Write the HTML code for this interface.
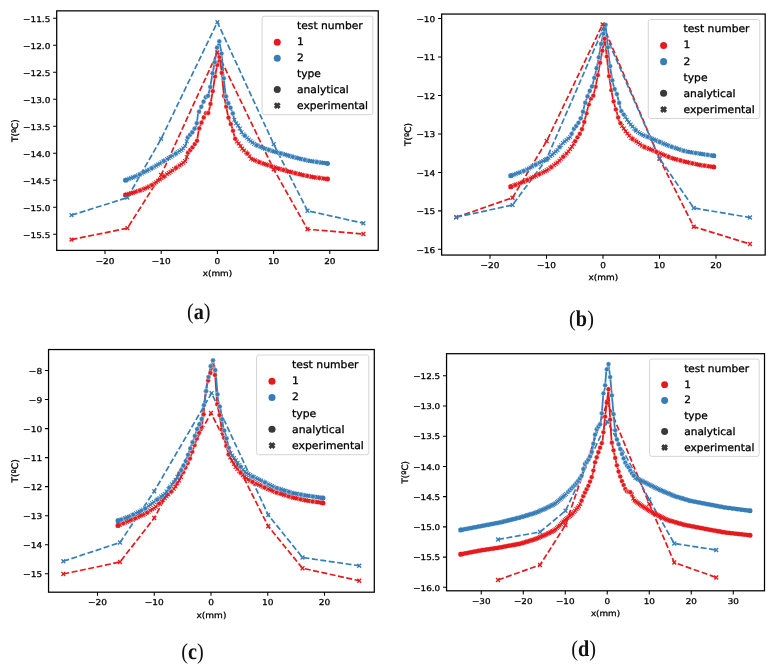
<!DOCTYPE html>
<html lang="en">
<head>
<meta charset="utf-8">
<title>Temperature profiles: analytical vs experimental</title>
<style>
html,body{margin:0;padding:0;background:#fff;}
body{width:780px;height:669px;overflow:hidden;}
svg{display:block;will-change:transform;opacity:0.999;text-rendering:geometricPrecision;}
text{white-space:pre;}
</style>
</head>
<body>
<svg width="780" height="669" viewBox="0 0 780 669">
<rect width="780" height="669" fill="#fff"/>
<g>
<polyline points="71.5,239.6 127.4,228.2 161.1,175 217.4,52.5 273.7,169.3 307.5,229.25 363.4,234" fill="none" stroke="#e41a1c" stroke-width="1.7" stroke-dasharray="6 2.5" stroke-linejoin="round"/>
<polyline points="71.5,215.2 127.4,197.6 161.1,138.9 217.4,22.2 273.7,144.2 307.5,210.75 363.4,223.25" fill="none" stroke="#377eb8" stroke-width="1.7" stroke-dasharray="6 2.5" stroke-linejoin="round"/>
<polyline points="125.6,195 142.1,189.8 152.3,185 163,177.2 174.4,169 182.7,163.3 186,160 187.9,152.8 192.6,147.2 197,140.8 198.9,129.3 201.5,122.7 203.8,117.4 206,113.2 208.5,113 210.6,103.5 212.9,90.3 215,76.5 217.4,64.2 219.5,57 221.5,70.4 224,96 226,105.3 228.1,116.5 230.2,122.7 232.2,127.8 234.9,138.1 236.3,141 239.5,144.5 242.5,149 247.5,153.75 251.25,158.75 260,162.5 275,167.5 287.5,171.25 302.5,175 315,177.5 327.5,179" fill="none" stroke="#e41a1c" stroke-width="1.8" stroke-linejoin="round"/>
<polyline points="125.6,180.2 138.8,175 152.3,168 163,161.5 173.8,155 182.7,149 185.8,145 187.8,137.5 192.5,132 196.5,125.5 198,114 200.8,108 203.4,102 205.8,97.2 207.8,96.8 210.2,87.6 212.3,74.5 215,61.2 217,47.8 219.3,41.3 221.5,53 224,80.6 225.6,95 228.3,103.2 230.8,108.3 232.8,113.5 234.9,121.7 239,126.8 242,133 249.5,140.2 255,144.5 265,148.75 277.5,152.5 295,157.5 307.5,160.5 320,162.5 327.5,163.5" fill="none" stroke="#377eb8" stroke-width="1.8" stroke-linejoin="round"/>
<path d="M123.7 193.1l3.8 3.8m-3.8 0l3.8 -3.8M125.5 192.53l3.8 3.8m-3.8 0l3.8 -3.8M127.3 191.97l3.8 3.8m-3.8 0l3.8 -3.8M129.1 191.4l3.8 3.8m-3.8 0l3.8 -3.8M130.9 190.83l3.8 3.8m-3.8 0l3.8 -3.8M132.7 190.26l3.8 3.8m-3.8 0l3.8 -3.8M134.5 189.7l3.8 3.8m-3.8 0l3.8 -3.8M136.3 189.13l3.8 3.8m-3.8 0l3.8 -3.8M138.1 188.56l3.8 3.8m-3.8 0l3.8 -3.8M139.9 187.99l3.8 3.8m-3.8 0l3.8 -3.8M141.7 187.19l3.8 3.8m-3.8 0l3.8 -3.8M143.5 186.35l3.8 3.8m-3.8 0l3.8 -3.8M145.3 185.5l3.8 3.8m-3.8 0l3.8 -3.8M147.1 184.65l3.8 3.8m-3.8 0l3.8 -3.8M148.9 183.81l3.8 3.8m-3.8 0l3.8 -3.8M150.7 182.88l3.8 3.8m-3.8 0l3.8 -3.8M152.5 181.57l3.8 3.8m-3.8 0l3.8 -3.8M154.3 180.26l3.8 3.8m-3.8 0l3.8 -3.8M156.1 178.94l3.8 3.8m-3.8 0l3.8 -3.8M157.9 177.63l3.8 3.8m-3.8 0l3.8 -3.8M159.7 176.32l3.8 3.8m-3.8 0l3.8 -3.8M161.5 175.01l3.8 3.8m-3.8 0l3.8 -3.8M163.3 173.72l3.8 3.8m-3.8 0l3.8 -3.8M165.1 172.42l3.8 3.8m-3.8 0l3.8 -3.8M166.9 171.13l3.8 3.8m-3.8 0l3.8 -3.8M168.7 169.83l3.8 3.8m-3.8 0l3.8 -3.8M170.5 168.54l3.8 3.8m-3.8 0l3.8 -3.8M172.3 167.24l3.8 3.8m-3.8 0l3.8 -3.8M174.1 166l3.8 3.8m-3.8 0l3.8 -3.8M175.9 164.77l3.8 3.8m-3.8 0l3.8 -3.8M177.7 163.53l3.8 3.8m-3.8 0l3.8 -3.8M179.5 162.29l3.8 3.8m-3.8 0l3.8 -3.8M181.3 160.9l3.8 3.8m-3.8 0l3.8 -3.8M183.1 159.1l3.8 3.8m-3.8 0l3.8 -3.8M184.9 155.07l3.8 3.8m-3.8 0l3.8 -3.8M234.95 139.7l3.8 3.8m-3.8 0l3.8 -3.8M236.75 141.67l3.8 3.8m-3.8 0l3.8 -3.8M238.55 144.03l3.8 3.8m-3.8 0l3.8 -3.8M240.35 146.73l3.8 3.8m-3.8 0l3.8 -3.8M242.15 148.57l3.8 3.8m-3.8 0l3.8 -3.8M243.95 150.28l3.8 3.8m-3.8 0l3.8 -3.8M245.75 152.05l3.8 3.8m-3.8 0l3.8 -3.8M247.55 154.45l3.8 3.8m-3.8 0l3.8 -3.8M249.35 156.85l3.8 3.8m-3.8 0l3.8 -3.8M251.15 157.62l3.8 3.8m-3.8 0l3.8 -3.8M252.95 158.39l3.8 3.8m-3.8 0l3.8 -3.8M254.75 159.16l3.8 3.8m-3.8 0l3.8 -3.8M256.55 159.94l3.8 3.8m-3.8 0l3.8 -3.8M258.35 160.68l3.8 3.8m-3.8 0l3.8 -3.8M260.15 161.28l3.8 3.8m-3.8 0l3.8 -3.8M261.95 161.88l3.8 3.8m-3.8 0l3.8 -3.8M263.75 162.48l3.8 3.8m-3.8 0l3.8 -3.8M265.55 163.08l3.8 3.8m-3.8 0l3.8 -3.8M267.35 163.68l3.8 3.8m-3.8 0l3.8 -3.8M269.15 164.28l3.8 3.8m-3.8 0l3.8 -3.8M270.95 164.88l3.8 3.8m-3.8 0l3.8 -3.8M272.75 165.48l3.8 3.8m-3.8 0l3.8 -3.8M274.55 166.04l3.8 3.8m-3.8 0l3.8 -3.8M276.35 166.58l3.8 3.8m-3.8 0l3.8 -3.8M278.15 167.12l3.8 3.8m-3.8 0l3.8 -3.8M279.95 167.66l3.8 3.8m-3.8 0l3.8 -3.8M281.75 168.2l3.8 3.8m-3.8 0l3.8 -3.8M283.55 168.74l3.8 3.8m-3.8 0l3.8 -3.8M285.35 169.28l3.8 3.8m-3.8 0l3.8 -3.8M287.15 169.74l3.8 3.8m-3.8 0l3.8 -3.8M288.95 170.19l3.8 3.8m-3.8 0l3.8 -3.8M290.75 170.64l3.8 3.8m-3.8 0l3.8 -3.8M292.55 171.09l3.8 3.8m-3.8 0l3.8 -3.8M294.35 171.54l3.8 3.8m-3.8 0l3.8 -3.8M296.15 171.99l3.8 3.8m-3.8 0l3.8 -3.8M297.95 172.44l3.8 3.8m-3.8 0l3.8 -3.8M299.75 172.89l3.8 3.8m-3.8 0l3.8 -3.8M301.55 173.29l3.8 3.8m-3.8 0l3.8 -3.8M303.35 173.65l3.8 3.8m-3.8 0l3.8 -3.8M305.15 174.01l3.8 3.8m-3.8 0l3.8 -3.8M306.95 174.37l3.8 3.8m-3.8 0l3.8 -3.8M308.75 174.73l3.8 3.8m-3.8 0l3.8 -3.8M310.55 175.09l3.8 3.8m-3.8 0l3.8 -3.8M312.35 175.45l3.8 3.8m-3.8 0l3.8 -3.8M314.15 175.73l3.8 3.8m-3.8 0l3.8 -3.8M315.95 175.94l3.8 3.8m-3.8 0l3.8 -3.8M317.75 176.16l3.8 3.8m-3.8 0l3.8 -3.8M319.55 176.37l3.8 3.8m-3.8 0l3.8 -3.8M321.35 176.59l3.8 3.8m-3.8 0l3.8 -3.8M323.15 176.81l3.8 3.8m-3.8 0l3.8 -3.8M324.95 177.02l3.8 3.8m-3.8 0l3.8 -3.8" stroke="#e41a1c" stroke-width="1.05" fill="none"/>
<g fill="#e41a1c" stroke="#fff" stroke-width="0.4">
<circle cx="140" cy="190.46" r="2.4"/><circle cx="152" cy="185.14" r="2.4"/><circle cx="164" cy="176.48" r="2.4"/><circle cx="176" cy="167.9" r="2.4"/><circle cx="188" cy="152.68" r="2.4"/><circle cx="190.25" cy="150" r="2.4"/><circle cx="192.5" cy="147.32" r="2.4"/><circle cx="194.75" cy="144.07" r="2.4"/><circle cx="197" cy="140.8" r="2.4"/><circle cx="199.25" cy="128.41" r="2.4"/><circle cx="201.5" cy="122.7" r="2.4"/><circle cx="203.75" cy="117.52" r="2.4"/><circle cx="206" cy="113.2" r="2.4"/><circle cx="208.25" cy="113.02" r="2.4"/><circle cx="210.5" cy="103.95" r="2.4"/><circle cx="212.75" cy="91.16" r="2.4"/><circle cx="215" cy="76.5" r="2.4"/><circle cx="217.25" cy="64.97" r="2.4"/><circle cx="219.5" cy="57" r="2.4"/><circle cx="221.75" cy="72.96" r="2.4"/><circle cx="224" cy="96" r="2.4"/><circle cx="226.25" cy="106.63" r="2.4"/><circle cx="228.5" cy="117.68" r="2.4"/><circle cx="230.75" cy="124.1" r="2.4"/><circle cx="233" cy="130.85" r="2.4"/><circle cx="235.25" cy="138.82" r="2.4"/><circle cx="247.25" cy="153.51" r="2.4"/><circle cx="259.25" cy="162.18" r="2.4"/><circle cx="271.25" cy="166.25" r="2.4"/><circle cx="283.25" cy="169.97" r="2.4"/><circle cx="295.25" cy="173.19" r="2.4"/><circle cx="307.25" cy="175.95" r="2.4"/><circle cx="319.25" cy="178.01" r="2.4"/>
</g>
<circle cx="125.6" cy="195" r="2.5" fill="#e41a1c"/>
<circle cx="327.5" cy="179" r="2.5" fill="#e41a1c"/>
<path d="M123.7 178.3l3.8 3.8m-3.8 0l3.8 -3.8M125.5 177.59l3.8 3.8m-3.8 0l3.8 -3.8M127.3 176.88l3.8 3.8m-3.8 0l3.8 -3.8M129.1 176.17l3.8 3.8m-3.8 0l3.8 -3.8M130.9 175.46l3.8 3.8m-3.8 0l3.8 -3.8M132.7 174.75l3.8 3.8m-3.8 0l3.8 -3.8M134.5 174.05l3.8 3.8m-3.8 0l3.8 -3.8M136.3 173.34l3.8 3.8m-3.8 0l3.8 -3.8M138.1 172.48l3.8 3.8m-3.8 0l3.8 -3.8M139.9 171.54l3.8 3.8m-3.8 0l3.8 -3.8M141.7 170.61l3.8 3.8m-3.8 0l3.8 -3.8M143.5 169.68l3.8 3.8m-3.8 0l3.8 -3.8M145.3 168.74l3.8 3.8m-3.8 0l3.8 -3.8M147.1 167.81l3.8 3.8m-3.8 0l3.8 -3.8M148.9 166.88l3.8 3.8m-3.8 0l3.8 -3.8M150.7 165.92l3.8 3.8m-3.8 0l3.8 -3.8M152.5 164.82l3.8 3.8m-3.8 0l3.8 -3.8M154.3 163.73l3.8 3.8m-3.8 0l3.8 -3.8M156.1 162.64l3.8 3.8m-3.8 0l3.8 -3.8M157.9 161.54l3.8 3.8m-3.8 0l3.8 -3.8M159.7 160.45l3.8 3.8m-3.8 0l3.8 -3.8M161.5 159.36l3.8 3.8m-3.8 0l3.8 -3.8M163.3 158.28l3.8 3.8m-3.8 0l3.8 -3.8M165.1 157.19l3.8 3.8m-3.8 0l3.8 -3.8M166.9 156.11l3.8 3.8m-3.8 0l3.8 -3.8M168.7 155.03l3.8 3.8m-3.8 0l3.8 -3.8M170.5 153.94l3.8 3.8m-3.8 0l3.8 -3.8M172.3 152.83l3.8 3.8m-3.8 0l3.8 -3.8M174.1 151.62l3.8 3.8m-3.8 0l3.8 -3.8M175.9 150.4l3.8 3.8m-3.8 0l3.8 -3.8M177.7 149.19l3.8 3.8m-3.8 0l3.8 -3.8M179.5 147.98l3.8 3.8m-3.8 0l3.8 -3.8M181.3 146.45l3.8 3.8m-3.8 0l3.8 -3.8M183.1 144.13l3.8 3.8m-3.8 0l3.8 -3.8M184.9 139.35l3.8 3.8m-3.8 0l3.8 -3.8M232.5 117.85l3.8 3.8m-3.8 0l3.8 -3.8M234.3 121.42l3.8 3.8m-3.8 0l3.8 -3.8M236.1 123.66l3.8 3.8m-3.8 0l3.8 -3.8M237.9 126.55l3.8 3.8m-3.8 0l3.8 -3.8M239.7 130.27l3.8 3.8m-3.8 0l3.8 -3.8M241.5 132.44l3.8 3.8m-3.8 0l3.8 -3.8M243.3 134.17l3.8 3.8m-3.8 0l3.8 -3.8M245.1 135.9l3.8 3.8m-3.8 0l3.8 -3.8M246.9 137.63l3.8 3.8m-3.8 0l3.8 -3.8M248.7 139.16l3.8 3.8m-3.8 0l3.8 -3.8M250.5 140.57l3.8 3.8m-3.8 0l3.8 -3.8M252.3 141.97l3.8 3.8m-3.8 0l3.8 -3.8M254.1 143.03l3.8 3.8m-3.8 0l3.8 -3.8M255.9 143.79l3.8 3.8m-3.8 0l3.8 -3.8M257.7 144.56l3.8 3.8m-3.8 0l3.8 -3.8M259.5 145.32l3.8 3.8m-3.8 0l3.8 -3.8M261.3 146.09l3.8 3.8m-3.8 0l3.8 -3.8M263.1 146.85l3.8 3.8m-3.8 0l3.8 -3.8M264.9 147.39l3.8 3.8m-3.8 0l3.8 -3.8M266.7 147.93l3.8 3.8m-3.8 0l3.8 -3.8M268.5 148.47l3.8 3.8m-3.8 0l3.8 -3.8M270.3 149.01l3.8 3.8m-3.8 0l3.8 -3.8M272.1 149.55l3.8 3.8m-3.8 0l3.8 -3.8M273.9 150.09l3.8 3.8m-3.8 0l3.8 -3.8M275.7 150.63l3.8 3.8m-3.8 0l3.8 -3.8M277.5 151.14l3.8 3.8m-3.8 0l3.8 -3.8M279.3 151.66l3.8 3.8m-3.8 0l3.8 -3.8M281.1 152.17l3.8 3.8m-3.8 0l3.8 -3.8M282.9 152.69l3.8 3.8m-3.8 0l3.8 -3.8M284.7 153.2l3.8 3.8m-3.8 0l3.8 -3.8M286.5 153.71l3.8 3.8m-3.8 0l3.8 -3.8M288.3 154.23l3.8 3.8m-3.8 0l3.8 -3.8M290.1 154.74l3.8 3.8m-3.8 0l3.8 -3.8M291.9 155.26l3.8 3.8m-3.8 0l3.8 -3.8M293.7 155.74l3.8 3.8m-3.8 0l3.8 -3.8M295.5 156.18l3.8 3.8m-3.8 0l3.8 -3.8M297.3 156.61l3.8 3.8m-3.8 0l3.8 -3.8M299.1 157.04l3.8 3.8m-3.8 0l3.8 -3.8M300.9 157.47l3.8 3.8m-3.8 0l3.8 -3.8M302.7 157.9l3.8 3.8m-3.8 0l3.8 -3.8M304.5 158.34l3.8 3.8m-3.8 0l3.8 -3.8M306.3 158.71l3.8 3.8m-3.8 0l3.8 -3.8M308.1 159l3.8 3.8m-3.8 0l3.8 -3.8M309.9 159.29l3.8 3.8m-3.8 0l3.8 -3.8M311.7 159.58l3.8 3.8m-3.8 0l3.8 -3.8M313.5 159.86l3.8 3.8m-3.8 0l3.8 -3.8M315.3 160.15l3.8 3.8m-3.8 0l3.8 -3.8M317.1 160.44l3.8 3.8m-3.8 0l3.8 -3.8M318.9 160.71l3.8 3.8m-3.8 0l3.8 -3.8M320.7 160.95l3.8 3.8m-3.8 0l3.8 -3.8M322.5 161.19l3.8 3.8m-3.8 0l3.8 -3.8M324.3 161.43l3.8 3.8m-3.8 0l3.8 -3.8" stroke="#377eb8" stroke-width="1.05" fill="none"/>
<g fill="#377eb8" stroke="#fff" stroke-width="0.4">
<circle cx="139.8" cy="174.48" r="2.4"/><circle cx="151.8" cy="168.26" r="2.4"/><circle cx="163.8" cy="161.02" r="2.4"/><circle cx="175.8" cy="153.65" r="2.4"/><circle cx="187.8" cy="137.5" r="2.4"/><circle cx="190.05" cy="134.87" r="2.4"/><circle cx="192.3" cy="132.23" r="2.4"/><circle cx="194.55" cy="128.67" r="2.4"/><circle cx="196.8" cy="123.2" r="2.4"/><circle cx="199.05" cy="111.75" r="2.4"/><circle cx="201.3" cy="106.85" r="2.4"/><circle cx="203.55" cy="101.7" r="2.4"/><circle cx="205.8" cy="97.2" r="2.4"/><circle cx="208.05" cy="95.84" r="2.4"/><circle cx="210.3" cy="86.98" r="2.4"/><circle cx="212.55" cy="73.27" r="2.4"/><circle cx="214.8" cy="62.19" r="2.4"/><circle cx="217.05" cy="47.66" r="2.4"/><circle cx="219.3" cy="41.3" r="2.4"/><circle cx="221.55" cy="53.55" r="2.4"/><circle cx="223.8" cy="78.39" r="2.4"/><circle cx="226.05" cy="96.37" r="2.4"/><circle cx="228.3" cy="103.2" r="2.4"/><circle cx="230.55" cy="107.79" r="2.4"/><circle cx="232.8" cy="113.5" r="2.4"/><circle cx="244.8" cy="135.69" r="2.4"/><circle cx="256.8" cy="145.27" r="2.4"/><circle cx="268.8" cy="149.89" r="2.4"/><circle cx="280.8" cy="153.44" r="2.4"/><circle cx="292.8" cy="156.87" r="2.4"/><circle cx="304.8" cy="159.85" r="2.4"/><circle cx="316.8" cy="161.99" r="2.4"/>
</g>
<circle cx="125.6" cy="180.2" r="2.5" fill="#377eb8"/>
<circle cx="327.5" cy="163.5" r="2.5" fill="#377eb8"/>
<path d="M69.6 237.7L73.4 241.5M69.6 241.5L73.4 237.7" stroke="#e41a1c" stroke-width="1.35" fill="none"/>
<path d="M125.5 226.3L129.3 230.1M125.5 230.1L129.3 226.3" stroke="#e41a1c" stroke-width="1.35" fill="none"/>
<path d="M159.2 173.1L163 176.9M159.2 176.9L163 173.1" stroke="#e41a1c" stroke-width="1.35" fill="none"/>
<path d="M215.5 50.6L219.3 54.4M215.5 54.4L219.3 50.6" stroke="#e41a1c" stroke-width="1.35" fill="none"/>
<path d="M271.8 167.4L275.6 171.2M271.8 171.2L275.6 167.4" stroke="#e41a1c" stroke-width="1.35" fill="none"/>
<path d="M305.6 227.35L309.4 231.15M305.6 231.15L309.4 227.35" stroke="#e41a1c" stroke-width="1.35" fill="none"/>
<path d="M361.5 232.1L365.3 235.9M361.5 235.9L365.3 232.1" stroke="#e41a1c" stroke-width="1.35" fill="none"/>
<path d="M69.6 213.3L73.4 217.1M69.6 217.1L73.4 213.3" stroke="#377eb8" stroke-width="1.35" fill="none"/>
<path d="M125.5 195.7L129.3 199.5M125.5 199.5L129.3 195.7" stroke="#377eb8" stroke-width="1.35" fill="none"/>
<path d="M159.2 137L163 140.8M159.2 140.8L163 137" stroke="#377eb8" stroke-width="1.35" fill="none"/>
<path d="M215.5 20.3L219.3 24.1M215.5 24.1L219.3 20.3" stroke="#377eb8" stroke-width="1.35" fill="none"/>
<path d="M271.8 142.3L275.6 146.1M271.8 146.1L275.6 142.3" stroke="#377eb8" stroke-width="1.35" fill="none"/>
<path d="M305.6 208.85L309.4 212.65M305.6 212.65L309.4 208.85" stroke="#377eb8" stroke-width="1.35" fill="none"/>
<path d="M361.5 221.35L365.3 225.15M361.5 225.15L365.3 221.35" stroke="#377eb8" stroke-width="1.35" fill="none"/>
<rect x="56.7" y="10.85" width="321.55" height="239.55" fill="none" stroke="#000" stroke-width="1.25"/>
<path d="M53.1 18.25H56.7M53.1 45.25H56.7M53.1 72.25H56.7M53.1 99.25H56.7M53.1 126.25H56.7M53.1 153.25H56.7M53.1 180.25H56.7M53.1 207.25H56.7M53.1 234.25H56.7M105 250.4V254M161.2 250.4V254M217.4 250.4V254M273.6 250.4V254M329.8 250.4V254" stroke="#000" stroke-width="1.05" fill="none"/>
<g font-family="'DejaVu Sans','Liberation Sans',sans-serif" font-size="8.9" fill="#000" stroke="#000" stroke-width="0.3">
<text transform="translate(50.3 21.5) scale(1 0.9)" text-anchor="end">−11.5</text>
<text transform="translate(50.3 48.5) scale(1 0.9)" text-anchor="end">−12.0</text>
<text transform="translate(50.3 75.5) scale(1 0.9)" text-anchor="end">−12.5</text>
<text transform="translate(50.3 102.5) scale(1 0.9)" text-anchor="end">−13.0</text>
<text transform="translate(50.3 129.5) scale(1 0.9)" text-anchor="end">−13.5</text>
<text transform="translate(50.3 156.5) scale(1 0.9)" text-anchor="end">−14.0</text>
<text transform="translate(50.3 183.5) scale(1 0.9)" text-anchor="end">−14.5</text>
<text transform="translate(50.3 210.5) scale(1 0.9)" text-anchor="end">−15.0</text>
<text transform="translate(50.3 237.5) scale(1 0.9)" text-anchor="end">−15.5</text>
<text transform="translate(105 263.65) scale(1 0.9)" text-anchor="middle">−20</text>
<text transform="translate(161.2 263.65) scale(1 0.9)" text-anchor="middle">−10</text>
<text transform="translate(217.4 263.65) scale(1 0.9)" text-anchor="middle">0</text>
<text transform="translate(273.6 263.65) scale(1 0.9)" text-anchor="middle">10</text>
<text transform="translate(329.8 263.65) scale(1 0.9)" text-anchor="middle">20</text>
<text transform="translate(217.47 275.7) scale(1 0.9)" text-anchor="middle">x(mm)</text>
<text transform="translate(18 130.62) rotate(-90) scale(1 1.0)" text-anchor="middle">T(ºC)</text>
</g>
<rect x="262.05" y="16.25" width="110.8" height="98.4" rx="2.2" fill="#fff" fill-opacity="0.8" stroke="#cfcfcf" stroke-width="0.9"/>
<g font-family="'DejaVu Sans','Liberation Sans',sans-serif" font-size="10.7" fill="#000" stroke="#000" stroke-width="0.3">
<text transform="translate(297.05 29.05) scale(1 0.96)">test number</text>
<text transform="translate(297.05 45.05) scale(1 0.96)">1</text>
<text transform="translate(297.05 61.05) scale(1 0.96)">2</text>
<text transform="translate(297.05 77.05) scale(1 0.96)">type</text>
<text transform="translate(297.05 93.05) scale(1 0.96)">analytical</text>
<text transform="translate(297.05 109.05) scale(1 0.96)">experimental</text>
</g>
<circle cx="277.25" cy="42.15" r="3.5" fill="#e41a1c"/>
<circle cx="277.25" cy="58.15" r="3.5" fill="#377eb8"/>
<circle cx="277.25" cy="89.55" r="3.5" fill="#3a3a3a"/>
<path d="M274.85 103.25L279.65 108.05M274.85 108.05L279.65 103.25" stroke="#3a3a3a" stroke-width="3" stroke-linecap="butt" fill="none"/>
<text transform="translate(198.75 318.7) scale(0.92 1.03)" text-anchor="middle" font-family="'Liberation Serif','DejaVu Serif',serif" font-size="22" fill="#111">(<tspan font-weight="bold">a</tspan>)</text>
</g>
<g>
<polyline points="456.2,217.25 512.5,197.75 546.7,141 602.6,24.4 659.5,158.75 693.75,226.75 750,244" fill="none" stroke="#e41a1c" stroke-width="1.7" stroke-dasharray="6 2.5" stroke-linejoin="round"/>
<polyline points="456.2,217.25 512.5,205 546.3,159.5 603,29 659.5,158.5 693.75,208 750,217.5" fill="none" stroke="#377eb8" stroke-width="1.7" stroke-dasharray="6 2.5" stroke-linejoin="round"/>
<polyline points="510.75,186.75 525,181.25 537.5,175 547.5,170 557.5,162.5 567.5,152.5 572.5,146 576.9,138.2 581,132 583.5,124.9 586.2,114.6 588.2,106.4 590.5,99 592.9,97.2 595.8,85.9 598.5,71.5 601.5,55.1 604.6,38.7 606.7,55.1 608.7,73.6 610.8,86.9 612.8,98.2 614.9,106.4 616.9,112.6 619,120.8 622,125.9 626.2,132 631.3,138.2 635,140.5 638.5,142.9 642.5,146.25 655,151.25 670,157.5 685,161.75 700,165 713.75,167" fill="none" stroke="#e41a1c" stroke-width="1.8" stroke-linejoin="round"/>
<polyline points="510.75,175.75 525,170.5 537.5,163.75 547.5,158.75 557.5,150 562.6,143.3 570.4,136.8 573.8,129 578,123.8 582.1,115.6 584.7,104.4 586.8,98.2 589.2,92.1 592.3,85.9 595.4,73.6 598.5,59.2 601.1,43.8 603.5,33 605.6,24.8 606.7,36.7 608.7,55.1 610.8,71.5 612.8,82.8 614.9,90 616.9,94.1 619,102.3 621,110.5 625.1,116.7 629.2,122.8 636.4,131 642.5,135 646.7,136.5 655,140 670,146.25 685,151.25 700,153.75 713.75,155.75" fill="none" stroke="#377eb8" stroke-width="1.8" stroke-linejoin="round"/>
<path d="M508.85 184.85l3.8 3.8m-3.8 0l3.8 -3.8M510.65 184.16l3.8 3.8m-3.8 0l3.8 -3.8M512.45 183.46l3.8 3.8m-3.8 0l3.8 -3.8M514.25 182.77l3.8 3.8m-3.8 0l3.8 -3.8M516.05 182.07l3.8 3.8m-3.8 0l3.8 -3.8M517.85 181.38l3.8 3.8m-3.8 0l3.8 -3.8M519.65 180.68l3.8 3.8m-3.8 0l3.8 -3.8M521.45 179.99l3.8 3.8m-3.8 0l3.8 -3.8M523.25 179.28l3.8 3.8m-3.8 0l3.8 -3.8M525.05 178.38l3.8 3.8m-3.8 0l3.8 -3.8M526.85 177.48l3.8 3.8m-3.8 0l3.8 -3.8M528.65 176.58l3.8 3.8m-3.8 0l3.8 -3.8M530.45 175.68l3.8 3.8m-3.8 0l3.8 -3.8M532.25 174.78l3.8 3.8m-3.8 0l3.8 -3.8M534.05 173.88l3.8 3.8m-3.8 0l3.8 -3.8M535.85 172.98l3.8 3.8m-3.8 0l3.8 -3.8M537.65 172.08l3.8 3.8m-3.8 0l3.8 -3.8M539.45 171.18l3.8 3.8m-3.8 0l3.8 -3.8M541.25 170.28l3.8 3.8m-3.8 0l3.8 -3.8M543.05 169.38l3.8 3.8m-3.8 0l3.8 -3.8M544.85 168.48l3.8 3.8m-3.8 0l3.8 -3.8M546.65 167.31l3.8 3.8m-3.8 0l3.8 -3.8M548.45 165.96l3.8 3.8m-3.8 0l3.8 -3.8M550.25 164.61l3.8 3.8m-3.8 0l3.8 -3.8M552.05 163.26l3.8 3.8m-3.8 0l3.8 -3.8M553.85 161.91l3.8 3.8m-3.8 0l3.8 -3.8M555.65 160.55l3.8 3.8m-3.8 0l3.8 -3.8M557.45 158.75l3.8 3.8m-3.8 0l3.8 -3.8M559.25 156.95l3.8 3.8m-3.8 0l3.8 -3.8M561.05 155.15l3.8 3.8m-3.8 0l3.8 -3.8M562.85 153.35l3.8 3.8m-3.8 0l3.8 -3.8M564.65 151.55l3.8 3.8m-3.8 0l3.8 -3.8M566.45 149.5l3.8 3.8m-3.8 0l3.8 -3.8M568.25 147.16l3.8 3.8m-3.8 0l3.8 -3.8M570.05 144.82l3.8 3.8m-3.8 0l3.8 -3.8M571.85 141.88l3.8 3.8m-3.8 0l3.8 -3.8M620.12 124.03l3.8 3.8m-3.8 0l3.8 -3.8M621.92 126.64l3.8 3.8m-3.8 0l3.8 -3.8M623.72 129.26l3.8 3.8m-3.8 0l3.8 -3.8M625.52 131.58l3.8 3.8m-3.8 0l3.8 -3.8M627.32 133.77l3.8 3.8m-3.8 0l3.8 -3.8M629.12 135.96l3.8 3.8m-3.8 0l3.8 -3.8M630.92 137.24l3.8 3.8m-3.8 0l3.8 -3.8M632.72 138.36l3.8 3.8m-3.8 0l3.8 -3.8M634.52 139.57l3.8 3.8m-3.8 0l3.8 -3.8M636.32 140.81l3.8 3.8m-3.8 0l3.8 -3.8M638.12 142.27l3.8 3.8m-3.8 0l3.8 -3.8M639.92 143.78l3.8 3.8m-3.8 0l3.8 -3.8M641.72 144.8l3.8 3.8m-3.8 0l3.8 -3.8M643.52 145.52l3.8 3.8m-3.8 0l3.8 -3.8M645.32 146.24l3.8 3.8m-3.8 0l3.8 -3.8M647.12 146.96l3.8 3.8m-3.8 0l3.8 -3.8M648.92 147.68l3.8 3.8m-3.8 0l3.8 -3.8M650.72 148.4l3.8 3.8m-3.8 0l3.8 -3.8M652.52 149.12l3.8 3.8m-3.8 0l3.8 -3.8M654.32 149.86l3.8 3.8m-3.8 0l3.8 -3.8M656.12 150.61l3.8 3.8m-3.8 0l3.8 -3.8M657.92 151.36l3.8 3.8m-3.8 0l3.8 -3.8M659.72 152.11l3.8 3.8m-3.8 0l3.8 -3.8M661.52 152.86l3.8 3.8m-3.8 0l3.8 -3.8M663.32 153.61l3.8 3.8m-3.8 0l3.8 -3.8M665.12 154.36l3.8 3.8m-3.8 0l3.8 -3.8M666.92 155.11l3.8 3.8m-3.8 0l3.8 -3.8M668.72 155.78l3.8 3.8m-3.8 0l3.8 -3.8M670.52 156.29l3.8 3.8m-3.8 0l3.8 -3.8M672.32 156.8l3.8 3.8m-3.8 0l3.8 -3.8M674.12 157.31l3.8 3.8m-3.8 0l3.8 -3.8M675.92 157.82l3.8 3.8m-3.8 0l3.8 -3.8M677.72 158.33l3.8 3.8m-3.8 0l3.8 -3.8M679.52 158.84l3.8 3.8m-3.8 0l3.8 -3.8M681.32 159.35l3.8 3.8m-3.8 0l3.8 -3.8M683.12 159.85l3.8 3.8m-3.8 0l3.8 -3.8M684.92 160.24l3.8 3.8m-3.8 0l3.8 -3.8M686.72 160.63l3.8 3.8m-3.8 0l3.8 -3.8M688.52 161.02l3.8 3.8m-3.8 0l3.8 -3.8M690.32 161.41l3.8 3.8m-3.8 0l3.8 -3.8M692.12 161.8l3.8 3.8m-3.8 0l3.8 -3.8M693.92 162.19l3.8 3.8m-3.8 0l3.8 -3.8M695.72 162.58l3.8 3.8m-3.8 0l3.8 -3.8M697.52 162.97l3.8 3.8m-3.8 0l3.8 -3.8M699.32 163.28l3.8 3.8m-3.8 0l3.8 -3.8M701.12 163.54l3.8 3.8m-3.8 0l3.8 -3.8M702.92 163.8l3.8 3.8m-3.8 0l3.8 -3.8M704.72 164.06l3.8 3.8m-3.8 0l3.8 -3.8M706.52 164.32l3.8 3.8m-3.8 0l3.8 -3.8M708.32 164.59l3.8 3.8m-3.8 0l3.8 -3.8M710.12 164.85l3.8 3.8m-3.8 0l3.8 -3.8" stroke="#e41a1c" stroke-width="1.05" fill="none"/>
<g fill="#e41a1c" stroke="#fff" stroke-width="0.4">
<circle cx="515.22" cy="185.02" r="2.4"/><circle cx="527.22" cy="180.14" r="2.4"/><circle cx="539.22" cy="174.14" r="2.4"/><circle cx="551.22" cy="167.21" r="2.4"/><circle cx="563.22" cy="156.78" r="2.4"/><circle cx="575.22" cy="141.18" r="2.4"/><circle cx="577.48" cy="137.32" r="2.4"/><circle cx="579.74" cy="133.91" r="2.4"/><circle cx="582" cy="129.16" r="2.4"/><circle cx="584.26" cy="122" r="2.4"/><circle cx="586.52" cy="113.29" r="2.4"/><circle cx="588.78" cy="104.53" r="2.4"/><circle cx="591.04" cy="98.59" r="2.4"/><circle cx="593.3" cy="95.64" r="2.4"/><circle cx="595.56" cy="86.84" r="2.4"/><circle cx="597.82" cy="75.13" r="2.4"/><circle cx="600.08" cy="62.86" r="2.4"/><circle cx="602.34" cy="50.66" r="2.4"/><circle cx="604.6" cy="38.7" r="2.4"/><circle cx="606.86" cy="56.58" r="2.4"/><circle cx="609.12" cy="76.26" r="2.4"/><circle cx="611.38" cy="90.18" r="2.4"/><circle cx="613.64" cy="101.48" r="2.4"/><circle cx="615.9" cy="109.5" r="2.4"/><circle cx="618.16" cy="117.52" r="2.4"/><circle cx="620.42" cy="123.21" r="2.4"/><circle cx="632.42" cy="138.9" r="2.4"/><circle cx="644.42" cy="147.02" r="2.4"/><circle cx="656.42" cy="151.84" r="2.4"/><circle cx="668.42" cy="156.84" r="2.4"/><circle cx="680.42" cy="160.45" r="2.4"/><circle cx="692.42" cy="163.36" r="2.4"/><circle cx="704.42" cy="165.64" r="2.4"/>
</g>
<circle cx="510.75" cy="186.75" r="2.5" fill="#e41a1c"/>
<circle cx="713.75" cy="167" r="2.5" fill="#e41a1c"/>
<path d="M508.85 173.85l3.8 3.8m-3.8 0l3.8 -3.8M510.65 173.19l3.8 3.8m-3.8 0l3.8 -3.8M512.45 172.52l3.8 3.8m-3.8 0l3.8 -3.8M514.25 171.86l3.8 3.8m-3.8 0l3.8 -3.8M516.05 171.2l3.8 3.8m-3.8 0l3.8 -3.8M517.85 170.53l3.8 3.8m-3.8 0l3.8 -3.8M519.65 169.87l3.8 3.8m-3.8 0l3.8 -3.8M521.45 169.21l3.8 3.8m-3.8 0l3.8 -3.8M523.25 168.52l3.8 3.8m-3.8 0l3.8 -3.8M525.05 167.55l3.8 3.8m-3.8 0l3.8 -3.8M526.85 166.58l3.8 3.8m-3.8 0l3.8 -3.8M528.65 165.6l3.8 3.8m-3.8 0l3.8 -3.8M530.45 164.63l3.8 3.8m-3.8 0l3.8 -3.8M532.25 163.66l3.8 3.8m-3.8 0l3.8 -3.8M534.05 162.69l3.8 3.8m-3.8 0l3.8 -3.8M535.85 161.73l3.8 3.8m-3.8 0l3.8 -3.8M537.65 160.83l3.8 3.8m-3.8 0l3.8 -3.8M539.45 159.93l3.8 3.8m-3.8 0l3.8 -3.8M541.25 159.03l3.8 3.8m-3.8 0l3.8 -3.8M543.05 158.13l3.8 3.8m-3.8 0l3.8 -3.8M544.85 157.23l3.8 3.8m-3.8 0l3.8 -3.8M546.65 155.93l3.8 3.8m-3.8 0l3.8 -3.8M548.45 154.36l3.8 3.8m-3.8 0l3.8 -3.8M550.25 152.78l3.8 3.8m-3.8 0l3.8 -3.8M552.05 151.21l3.8 3.8m-3.8 0l3.8 -3.8M553.85 149.63l3.8 3.8m-3.8 0l3.8 -3.8M555.65 148.03l3.8 3.8m-3.8 0l3.8 -3.8M557.45 145.67l3.8 3.8m-3.8 0l3.8 -3.8M559.25 143.3l3.8 3.8m-3.8 0l3.8 -3.8M561.05 141.11l3.8 3.8m-3.8 0l3.8 -3.8M562.85 139.61l3.8 3.8m-3.8 0l3.8 -3.8M564.65 138.11l3.8 3.8m-3.8 0l3.8 -3.8M566.45 136.61l3.8 3.8m-3.8 0l3.8 -3.8M568.25 135.11l3.8 3.8m-3.8 0l3.8 -3.8M623.38 115.07l3.8 3.8m-3.8 0l3.8 -3.8M625.18 117.75l3.8 3.8m-3.8 0l3.8 -3.8M626.98 120.42l3.8 3.8m-3.8 0l3.8 -3.8M628.78 122.59l3.8 3.8m-3.8 0l3.8 -3.8M630.58 124.64l3.8 3.8m-3.8 0l3.8 -3.8M632.38 126.69l3.8 3.8m-3.8 0l3.8 -3.8M634.18 128.74l3.8 3.8m-3.8 0l3.8 -3.8M635.98 130.07l3.8 3.8m-3.8 0l3.8 -3.8M637.78 131.25l3.8 3.8m-3.8 0l3.8 -3.8M639.58 132.43l3.8 3.8m-3.8 0l3.8 -3.8M641.38 133.38l3.8 3.8m-3.8 0l3.8 -3.8M643.18 134.02l3.8 3.8m-3.8 0l3.8 -3.8M644.98 134.68l3.8 3.8m-3.8 0l3.8 -3.8M646.78 135.43l3.8 3.8m-3.8 0l3.8 -3.8M648.58 136.19l3.8 3.8m-3.8 0l3.8 -3.8M650.38 136.95l3.8 3.8m-3.8 0l3.8 -3.8M652.18 137.71l3.8 3.8m-3.8 0l3.8 -3.8M653.98 138.47l3.8 3.8m-3.8 0l3.8 -3.8M655.78 139.22l3.8 3.8m-3.8 0l3.8 -3.8M657.58 139.97l3.8 3.8m-3.8 0l3.8 -3.8M659.38 140.72l3.8 3.8m-3.8 0l3.8 -3.8M661.18 141.47l3.8 3.8m-3.8 0l3.8 -3.8M662.98 142.22l3.8 3.8m-3.8 0l3.8 -3.8M664.78 142.97l3.8 3.8m-3.8 0l3.8 -3.8M666.58 143.72l3.8 3.8m-3.8 0l3.8 -3.8M668.38 144.44l3.8 3.8m-3.8 0l3.8 -3.8M670.18 145.04l3.8 3.8m-3.8 0l3.8 -3.8M671.98 145.64l3.8 3.8m-3.8 0l3.8 -3.8M673.78 146.24l3.8 3.8m-3.8 0l3.8 -3.8M675.58 146.84l3.8 3.8m-3.8 0l3.8 -3.8M677.38 147.44l3.8 3.8m-3.8 0l3.8 -3.8M679.18 148.04l3.8 3.8m-3.8 0l3.8 -3.8M680.98 148.64l3.8 3.8m-3.8 0l3.8 -3.8M682.78 149.24l3.8 3.8m-3.8 0l3.8 -3.8M684.58 149.6l3.8 3.8m-3.8 0l3.8 -3.8M686.38 149.9l3.8 3.8m-3.8 0l3.8 -3.8M688.18 150.2l3.8 3.8m-3.8 0l3.8 -3.8M689.98 150.5l3.8 3.8m-3.8 0l3.8 -3.8M691.78 150.8l3.8 3.8m-3.8 0l3.8 -3.8M693.58 151.1l3.8 3.8m-3.8 0l3.8 -3.8M695.38 151.4l3.8 3.8m-3.8 0l3.8 -3.8M697.18 151.7l3.8 3.8m-3.8 0l3.8 -3.8M698.98 151.98l3.8 3.8m-3.8 0l3.8 -3.8M700.78 152.24l3.8 3.8m-3.8 0l3.8 -3.8M702.58 152.5l3.8 3.8m-3.8 0l3.8 -3.8M704.38 152.76l3.8 3.8m-3.8 0l3.8 -3.8M706.18 153.03l3.8 3.8m-3.8 0l3.8 -3.8M707.98 153.29l3.8 3.8m-3.8 0l3.8 -3.8M709.78 153.55l3.8 3.8m-3.8 0l3.8 -3.8M711.58 153.81l3.8 3.8m-3.8 0l3.8 -3.8" stroke="#377eb8" stroke-width="1.05" fill="none"/>
<g fill="#377eb8" stroke="#fff" stroke-width="0.4">
<circle cx="523.7" cy="170.98" r="2.4"/><circle cx="535.7" cy="164.72" r="2.4"/><circle cx="547.7" cy="158.57" r="2.4"/><circle cx="559.7" cy="147.11" r="2.4"/><circle cx="571.7" cy="133.82" r="2.4"/><circle cx="573.96" cy="128.8" r="2.4"/><circle cx="576.22" cy="126" r="2.4"/><circle cx="578.48" cy="122.84" r="2.4"/><circle cx="580.74" cy="118.32" r="2.4"/><circle cx="583" cy="111.72" r="2.4"/><circle cx="585.26" cy="102.75" r="2.4"/><circle cx="587.52" cy="96.37" r="2.4"/><circle cx="589.78" cy="90.94" r="2.4"/><circle cx="592.04" cy="86.42" r="2.4"/><circle cx="594.3" cy="77.96" r="2.4"/><circle cx="596.56" cy="68.21" r="2.4"/><circle cx="598.82" cy="57.3" r="2.4"/><circle cx="601.08" cy="43.92" r="2.4"/><circle cx="603.34" cy="33.72" r="2.4"/><circle cx="605.6" cy="24.8" r="2.4"/><circle cx="607.86" cy="47.37" r="2.4"/><circle cx="610.12" cy="66.19" r="2.4"/><circle cx="612.38" cy="80.43" r="2.4"/><circle cx="614.64" cy="89.11" r="2.4"/><circle cx="616.9" cy="94.1" r="2.4"/><circle cx="619.16" cy="102.96" r="2.4"/><circle cx="621.42" cy="111.14" r="2.4"/><circle cx="623.68" cy="114.55" r="2.4"/><circle cx="635.68" cy="130.18" r="2.4"/><circle cx="647.68" cy="136.91" r="2.4"/><circle cx="659.68" cy="141.95" r="2.4"/><circle cx="671.68" cy="146.81" r="2.4"/><circle cx="683.68" cy="150.81" r="2.4"/><circle cx="695.68" cy="153.03" r="2.4"/><circle cx="707.68" cy="154.87" r="2.4"/>
</g>
<circle cx="510.75" cy="175.75" r="2.5" fill="#377eb8"/>
<circle cx="713.75" cy="155.75" r="2.5" fill="#377eb8"/>
<path d="M454.3 215.35L458.1 219.15M454.3 219.15L458.1 215.35" stroke="#e41a1c" stroke-width="1.35" fill="none"/>
<path d="M510.6 195.85L514.4 199.65M510.6 199.65L514.4 195.85" stroke="#e41a1c" stroke-width="1.35" fill="none"/>
<path d="M544.8 139.1L548.6 142.9M544.8 142.9L548.6 139.1" stroke="#e41a1c" stroke-width="1.35" fill="none"/>
<path d="M600.7 22.5L604.5 26.3M600.7 26.3L604.5 22.5" stroke="#e41a1c" stroke-width="1.35" fill="none"/>
<path d="M657.6 156.85L661.4 160.65M657.6 160.65L661.4 156.85" stroke="#e41a1c" stroke-width="1.35" fill="none"/>
<path d="M691.85 224.85L695.65 228.65M691.85 228.65L695.65 224.85" stroke="#e41a1c" stroke-width="1.35" fill="none"/>
<path d="M748.1 242.1L751.9 245.9M748.1 245.9L751.9 242.1" stroke="#e41a1c" stroke-width="1.35" fill="none"/>
<path d="M454.3 215.35L458.1 219.15M454.3 219.15L458.1 215.35" stroke="#377eb8" stroke-width="1.35" fill="none"/>
<path d="M510.6 203.1L514.4 206.9M510.6 206.9L514.4 203.1" stroke="#377eb8" stroke-width="1.35" fill="none"/>
<path d="M544.4 157.6L548.2 161.4M544.4 161.4L548.2 157.6" stroke="#377eb8" stroke-width="1.35" fill="none"/>
<path d="M601.1 27.1L604.9 30.9M601.1 30.9L604.9 27.1" stroke="#377eb8" stroke-width="1.35" fill="none"/>
<path d="M657.6 156.6L661.4 160.4M657.6 160.4L661.4 156.6" stroke="#377eb8" stroke-width="1.35" fill="none"/>
<path d="M691.85 206.1L695.65 209.9M691.85 209.9L695.65 206.1" stroke="#377eb8" stroke-width="1.35" fill="none"/>
<path d="M748.1 215.6L751.9 219.4M748.1 219.4L751.9 215.6" stroke="#377eb8" stroke-width="1.35" fill="none"/>
<rect x="441.65" y="14.05" width="323.55" height="241" fill="none" stroke="#000" stroke-width="1.25"/>
<path d="M438.05 18.5H441.65M438.05 57H441.65M438.05 95.45H441.65M438.05 133.9H441.65M438.05 172.4H441.65M438.05 210.85H441.65M438.05 249.3H441.65M490 255.05V258.65M546.5 255.05V258.65M603 255.05V258.65M659.5 255.05V258.65M716 255.05V258.65" stroke="#000" stroke-width="1.05" fill="none"/>
<g font-family="'DejaVu Sans','Liberation Sans',sans-serif" font-size="8.95" fill="#000" stroke="#000" stroke-width="0.3">
<text transform="translate(435.25 21.75) scale(1 0.9)" text-anchor="end">−10</text>
<text transform="translate(435.25 60.25) scale(1 0.9)" text-anchor="end">−11</text>
<text transform="translate(435.25 98.7) scale(1 0.9)" text-anchor="end">−12</text>
<text transform="translate(435.25 137.15) scale(1 0.9)" text-anchor="end">−13</text>
<text transform="translate(435.25 175.65) scale(1 0.9)" text-anchor="end">−14</text>
<text transform="translate(435.25 214.1) scale(1 0.9)" text-anchor="end">−15</text>
<text transform="translate(435.25 252.55) scale(1 0.9)" text-anchor="end">−16</text>
<text transform="translate(490 268.3) scale(1 0.9)" text-anchor="middle">−20</text>
<text transform="translate(546.5 268.3) scale(1 0.9)" text-anchor="middle">−10</text>
<text transform="translate(603 268.3) scale(1 0.9)" text-anchor="middle">0</text>
<text transform="translate(659.5 268.3) scale(1 0.9)" text-anchor="middle">10</text>
<text transform="translate(716 268.3) scale(1 0.9)" text-anchor="middle">20</text>
<text transform="translate(603.42 280.35) scale(1 0.9)" text-anchor="middle">x(mm)</text>
<text transform="translate(411.3 134.55) rotate(-90) scale(1 1.0)" text-anchor="middle">T(ºC)</text>
</g>
<rect x="648.3" y="19.48" width="111.46" height="98.99" rx="2.21" fill="#fff" fill-opacity="0.8" stroke="#cfcfcf" stroke-width="0.9"/>
<g font-family="'DejaVu Sans','Liberation Sans',sans-serif" font-size="10.76" fill="#000" stroke="#000" stroke-width="0.3">
<text transform="translate(683.51 32.36) scale(1 0.96)">test number</text>
<text transform="translate(683.51 48.46) scale(1 0.96)">1</text>
<text transform="translate(683.51 64.55) scale(1 0.96)">2</text>
<text transform="translate(683.51 80.65) scale(1 0.96)">type</text>
<text transform="translate(683.51 96.74) scale(1 0.96)">analytical</text>
<text transform="translate(683.51 112.84) scale(1 0.96)">experimental</text>
</g>
<circle cx="663.59" cy="45.54" r="3.52" fill="#e41a1c"/>
<circle cx="663.59" cy="61.63" r="3.52" fill="#377eb8"/>
<circle cx="663.59" cy="93.22" r="3.52" fill="#3a3a3a"/>
<path d="M661.18 107L666.01 111.83M661.18 111.83L666.01 107" stroke="#3a3a3a" stroke-width="3.02" stroke-linecap="butt" fill="none"/>
<text transform="translate(581.5 326.1) scale(0.92 1.03)" text-anchor="middle" font-family="'Liberation Serif','DejaVu Serif',serif" font-size="22" fill="#111">(<tspan font-weight="bold">b</tspan>)</text>
</g>
<g>
<polyline points="63.3,574 120,562 154.25,518 211,413 268.25,526.25 302.5,568.25 359.25,580.75" fill="none" stroke="#e41a1c" stroke-width="1.7" stroke-dasharray="6 2.5" stroke-linejoin="round"/>
<polyline points="63.3,561.25 120,542.5 154.25,491.25 211.6,393.1 268.25,515 302.5,557.5 359.25,565.75" fill="none" stroke="#377eb8" stroke-width="1.7" stroke-dasharray="6 2.5" stroke-linejoin="round"/>
<polyline points="118,525.5 130,520.5 145,514 155,507.5 165,498 175,487.5 180,479 185,468.5 190,458.5 194.1,446.4 196.5,439.5 199.4,432 201.5,426.5 203.4,417.3 204.6,401 206.6,386 209.5,376 212.7,365.5 215.2,376 217.2,404 219.8,416.5 222,431 224.7,440 228.75,455 235,466.25 242.5,475 248.75,480 260,485.5 275,492 292.5,497.5 307.5,500.75 323,503" fill="none" stroke="#e41a1c" stroke-width="1.8" stroke-linejoin="round"/>
<polyline points="118,520.75 130,516.25 145,508.75 155,501.25 165,493.75 170.5,486 175,481 180.8,471 185.9,460.8 191,446.4 194.1,438.2 197.3,428.5 199.5,424 201.5,420 203,410.6 205.3,397 207.7,381 210.4,367 213,360.3 215.7,372 218,400 220.6,409.4 223.4,428 225.2,433 227,440 230,452.5 237.5,462.5 245,472 252.6,476.5 260,480 275,487.5 292.5,493 307.5,495.75 323,498" fill="none" stroke="#377eb8" stroke-width="1.8" stroke-linejoin="round"/>
<path d="M116.1 523.6l3.8 3.8m-3.8 0l3.8 -3.8M117.9 522.85l3.8 3.8m-3.8 0l3.8 -3.8M119.7 522.1l3.8 3.8m-3.8 0l3.8 -3.8M121.5 521.35l3.8 3.8m-3.8 0l3.8 -3.8M123.3 520.6l3.8 3.8m-3.8 0l3.8 -3.8M125.1 519.85l3.8 3.8m-3.8 0l3.8 -3.8M126.9 519.1l3.8 3.8m-3.8 0l3.8 -3.8M128.7 518.34l3.8 3.8m-3.8 0l3.8 -3.8M130.5 517.56l3.8 3.8m-3.8 0l3.8 -3.8M132.3 516.78l3.8 3.8m-3.8 0l3.8 -3.8M134.1 516l3.8 3.8m-3.8 0l3.8 -3.8M135.9 515.22l3.8 3.8m-3.8 0l3.8 -3.8M137.7 514.44l3.8 3.8m-3.8 0l3.8 -3.8M139.5 513.66l3.8 3.8m-3.8 0l3.8 -3.8M141.3 512.88l3.8 3.8m-3.8 0l3.8 -3.8M143.1 512.1l3.8 3.8m-3.8 0l3.8 -3.8M144.9 510.93l3.8 3.8m-3.8 0l3.8 -3.8M146.7 509.76l3.8 3.8m-3.8 0l3.8 -3.8M148.5 508.59l3.8 3.8m-3.8 0l3.8 -3.8M150.3 507.42l3.8 3.8m-3.8 0l3.8 -3.8M152.1 506.25l3.8 3.8m-3.8 0l3.8 -3.8M153.9 504.84l3.8 3.8m-3.8 0l3.8 -3.8M155.7 503.13l3.8 3.8m-3.8 0l3.8 -3.8M157.5 501.42l3.8 3.8m-3.8 0l3.8 -3.8M159.3 499.71l3.8 3.8m-3.8 0l3.8 -3.8M161.1 498l3.8 3.8m-3.8 0l3.8 -3.8M162.9 496.29l3.8 3.8m-3.8 0l3.8 -3.8M164.7 494.42l3.8 3.8m-3.8 0l3.8 -3.8M166.5 492.53l3.8 3.8m-3.8 0l3.8 -3.8M168.3 490.64l3.8 3.8m-3.8 0l3.8 -3.8M170.1 488.75l3.8 3.8m-3.8 0l3.8 -3.8M171.9 486.86l3.8 3.8m-3.8 0l3.8 -3.8M173.7 484.58l3.8 3.8m-3.8 0l3.8 -3.8M175.5 481.52l3.8 3.8m-3.8 0l3.8 -3.8M177.3 478.46l3.8 3.8m-3.8 0l3.8 -3.8M179.1 475l3.8 3.8m-3.8 0l3.8 -3.8M228.29 455.69l3.8 3.8m-3.8 0l3.8 -3.8M230.09 458.93l3.8 3.8m-3.8 0l3.8 -3.8M231.89 462.17l3.8 3.8m-3.8 0l3.8 -3.8M233.69 465.04l3.8 3.8m-3.8 0l3.8 -3.8M235.49 467.14l3.8 3.8m-3.8 0l3.8 -3.8M237.29 469.24l3.8 3.8m-3.8 0l3.8 -3.8M239.09 471.34l3.8 3.8m-3.8 0l3.8 -3.8M240.89 473.33l3.8 3.8m-3.8 0l3.8 -3.8M242.69 474.77l3.8 3.8m-3.8 0l3.8 -3.8M244.49 476.21l3.8 3.8m-3.8 0l3.8 -3.8M246.29 477.65l3.8 3.8m-3.8 0l3.8 -3.8M248.09 478.71l3.8 3.8m-3.8 0l3.8 -3.8M249.89 479.59l3.8 3.8m-3.8 0l3.8 -3.8M251.69 480.47l3.8 3.8m-3.8 0l3.8 -3.8M253.49 481.35l3.8 3.8m-3.8 0l3.8 -3.8M255.29 482.23l3.8 3.8m-3.8 0l3.8 -3.8M257.09 483.11l3.8 3.8m-3.8 0l3.8 -3.8M258.89 483.94l3.8 3.8m-3.8 0l3.8 -3.8M260.69 484.72l3.8 3.8m-3.8 0l3.8 -3.8M262.49 485.5l3.8 3.8m-3.8 0l3.8 -3.8M264.29 486.28l3.8 3.8m-3.8 0l3.8 -3.8M266.09 487.06l3.8 3.8m-3.8 0l3.8 -3.8M267.89 487.84l3.8 3.8m-3.8 0l3.8 -3.8M269.69 488.62l3.8 3.8m-3.8 0l3.8 -3.8M271.49 489.4l3.8 3.8m-3.8 0l3.8 -3.8M273.29 490.16l3.8 3.8m-3.8 0l3.8 -3.8M275.09 490.73l3.8 3.8m-3.8 0l3.8 -3.8M276.89 491.29l3.8 3.8m-3.8 0l3.8 -3.8M278.69 491.86l3.8 3.8m-3.8 0l3.8 -3.8M280.49 492.42l3.8 3.8m-3.8 0l3.8 -3.8M282.29 492.99l3.8 3.8m-3.8 0l3.8 -3.8M284.09 493.55l3.8 3.8m-3.8 0l3.8 -3.8M285.89 494.12l3.8 3.8m-3.8 0l3.8 -3.8M287.69 494.69l3.8 3.8m-3.8 0l3.8 -3.8M289.49 495.25l3.8 3.8m-3.8 0l3.8 -3.8M291.29 495.75l3.8 3.8m-3.8 0l3.8 -3.8M293.09 496.14l3.8 3.8m-3.8 0l3.8 -3.8M294.89 496.53l3.8 3.8m-3.8 0l3.8 -3.8M296.69 496.92l3.8 3.8m-3.8 0l3.8 -3.8M298.49 497.31l3.8 3.8m-3.8 0l3.8 -3.8M300.29 497.7l3.8 3.8m-3.8 0l3.8 -3.8M302.09 498.09l3.8 3.8m-3.8 0l3.8 -3.8M303.89 498.48l3.8 3.8m-3.8 0l3.8 -3.8M305.69 498.86l3.8 3.8m-3.8 0l3.8 -3.8M307.49 499.12l3.8 3.8m-3.8 0l3.8 -3.8M309.29 499.39l3.8 3.8m-3.8 0l3.8 -3.8M311.09 499.65l3.8 3.8m-3.8 0l3.8 -3.8M312.89 499.91l3.8 3.8m-3.8 0l3.8 -3.8M314.69 500.17l3.8 3.8m-3.8 0l3.8 -3.8M316.49 500.43l3.8 3.8m-3.8 0l3.8 -3.8M318.29 500.69l3.8 3.8m-3.8 0l3.8 -3.8M320.09 500.95l3.8 3.8m-3.8 0l3.8 -3.8" stroke="#e41a1c" stroke-width="1.05" fill="none"/>
<g fill="#e41a1c" stroke="#fff" stroke-width="0.4">
<circle cx="123.19" cy="523.34" r="2.4"/><circle cx="135.19" cy="518.25" r="2.4"/><circle cx="147.19" cy="512.58" r="2.4"/><circle cx="159.19" cy="503.52" r="2.4"/><circle cx="171.19" cy="491.5" r="2.4"/><circle cx="183.19" cy="472.3" r="2.4"/><circle cx="185.46" cy="467.58" r="2.4"/><circle cx="187.73" cy="463.04" r="2.4"/><circle cx="190" cy="458.5" r="2.4"/><circle cx="192.27" cy="451.8" r="2.4"/><circle cx="194.54" cy="445.13" r="2.4"/><circle cx="196.81" cy="438.7" r="2.4"/><circle cx="199.08" cy="432.83" r="2.4"/><circle cx="201.35" cy="426.89" r="2.4"/><circle cx="203.62" cy="414.31" r="2.4"/><circle cx="205.89" cy="391.33" r="2.4"/><circle cx="208.16" cy="380.62" r="2.4"/><circle cx="210.43" cy="372.95" r="2.4"/><circle cx="212.7" cy="365.5" r="2.4"/><circle cx="214.97" cy="375.03" r="2.4"/><circle cx="217.24" cy="404.19" r="2.4"/><circle cx="219.51" cy="415.11" r="2.4"/><circle cx="221.78" cy="429.55" r="2.4"/><circle cx="224.05" cy="437.83" r="2.4"/><circle cx="226.32" cy="446" r="2.4"/><circle cx="228.59" cy="454.41" r="2.4"/><circle cx="240.59" cy="472.77" r="2.4"/><circle cx="252.59" cy="481.88" r="2.4"/><circle cx="264.59" cy="487.49" r="2.4"/><circle cx="276.59" cy="492.5" r="2.4"/><circle cx="288.59" cy="496.27" r="2.4"/><circle cx="300.59" cy="499.25" r="2.4"/><circle cx="312.59" cy="501.49" r="2.4"/>
</g>
<circle cx="118" cy="525.5" r="2.5" fill="#e41a1c"/>
<circle cx="323" cy="503" r="2.5" fill="#e41a1c"/>
<path d="M116.1 518.85l3.8 3.8m-3.8 0l3.8 -3.8M117.9 518.18l3.8 3.8m-3.8 0l3.8 -3.8M119.7 517.5l3.8 3.8m-3.8 0l3.8 -3.8M121.5 516.83l3.8 3.8m-3.8 0l3.8 -3.8M123.3 516.15l3.8 3.8m-3.8 0l3.8 -3.8M125.1 515.48l3.8 3.8m-3.8 0l3.8 -3.8M126.9 514.8l3.8 3.8m-3.8 0l3.8 -3.8M128.7 514.05l3.8 3.8m-3.8 0l3.8 -3.8M130.5 513.15l3.8 3.8m-3.8 0l3.8 -3.8M132.3 512.25l3.8 3.8m-3.8 0l3.8 -3.8M134.1 511.35l3.8 3.8m-3.8 0l3.8 -3.8M135.9 510.45l3.8 3.8m-3.8 0l3.8 -3.8M137.7 509.55l3.8 3.8m-3.8 0l3.8 -3.8M139.5 508.65l3.8 3.8m-3.8 0l3.8 -3.8M141.3 507.75l3.8 3.8m-3.8 0l3.8 -3.8M143.1 506.85l3.8 3.8m-3.8 0l3.8 -3.8M144.9 505.5l3.8 3.8m-3.8 0l3.8 -3.8M146.7 504.15l3.8 3.8m-3.8 0l3.8 -3.8M148.5 502.8l3.8 3.8m-3.8 0l3.8 -3.8M150.3 501.45l3.8 3.8m-3.8 0l3.8 -3.8M152.1 500.1l3.8 3.8m-3.8 0l3.8 -3.8M153.9 498.75l3.8 3.8m-3.8 0l3.8 -3.8M155.7 497.4l3.8 3.8m-3.8 0l3.8 -3.8M157.5 496.05l3.8 3.8m-3.8 0l3.8 -3.8M159.3 494.7l3.8 3.8m-3.8 0l3.8 -3.8M161.1 493.35l3.8 3.8m-3.8 0l3.8 -3.8M162.9 492l3.8 3.8m-3.8 0l3.8 -3.8M164.7 489.6l3.8 3.8m-3.8 0l3.8 -3.8M166.5 487.06l3.8 3.8m-3.8 0l3.8 -3.8M168.3 484.52l3.8 3.8m-3.8 0l3.8 -3.8M170.1 482.43l3.8 3.8m-3.8 0l3.8 -3.8M171.9 480.43l3.8 3.8m-3.8 0l3.8 -3.8M173.7 478.07l3.8 3.8m-3.8 0l3.8 -3.8M175.5 474.96l3.8 3.8m-3.8 0l3.8 -3.8M177.3 471.86l3.8 3.8m-3.8 0l3.8 -3.8M228.59 451.25l3.8 3.8m-3.8 0l3.8 -3.8M230.39 453.65l3.8 3.8m-3.8 0l3.8 -3.8M232.19 456.05l3.8 3.8m-3.8 0l3.8 -3.8M233.99 458.45l3.8 3.8m-3.8 0l3.8 -3.8M235.79 460.84l3.8 3.8m-3.8 0l3.8 -3.8M237.59 463.12l3.8 3.8m-3.8 0l3.8 -3.8M239.39 465.4l3.8 3.8m-3.8 0l3.8 -3.8M241.19 467.68l3.8 3.8m-3.8 0l3.8 -3.8M242.99 469.96l3.8 3.8m-3.8 0l3.8 -3.8M244.79 471.1l3.8 3.8m-3.8 0l3.8 -3.8M246.59 472.17l3.8 3.8m-3.8 0l3.8 -3.8M248.39 473.23l3.8 3.8m-3.8 0l3.8 -3.8M250.19 474.3l3.8 3.8m-3.8 0l3.8 -3.8M251.99 475.21l3.8 3.8m-3.8 0l3.8 -3.8M253.79 476.06l3.8 3.8m-3.8 0l3.8 -3.8M255.59 476.91l3.8 3.8m-3.8 0l3.8 -3.8M257.39 477.76l3.8 3.8m-3.8 0l3.8 -3.8M259.19 478.65l3.8 3.8m-3.8 0l3.8 -3.8M260.99 479.55l3.8 3.8m-3.8 0l3.8 -3.8M262.79 480.45l3.8 3.8m-3.8 0l3.8 -3.8M264.59 481.35l3.8 3.8m-3.8 0l3.8 -3.8M266.39 482.25l3.8 3.8m-3.8 0l3.8 -3.8M268.19 483.15l3.8 3.8m-3.8 0l3.8 -3.8M269.99 484.05l3.8 3.8m-3.8 0l3.8 -3.8M271.79 484.95l3.8 3.8m-3.8 0l3.8 -3.8M273.59 485.75l3.8 3.8m-3.8 0l3.8 -3.8M275.39 486.32l3.8 3.8m-3.8 0l3.8 -3.8M277.19 486.89l3.8 3.8m-3.8 0l3.8 -3.8M278.99 487.45l3.8 3.8m-3.8 0l3.8 -3.8M280.79 488.02l3.8 3.8m-3.8 0l3.8 -3.8M282.59 488.58l3.8 3.8m-3.8 0l3.8 -3.8M284.39 489.15l3.8 3.8m-3.8 0l3.8 -3.8M286.19 489.71l3.8 3.8m-3.8 0l3.8 -3.8M287.99 490.28l3.8 3.8m-3.8 0l3.8 -3.8M289.79 490.85l3.8 3.8m-3.8 0l3.8 -3.8M291.59 491.28l3.8 3.8m-3.8 0l3.8 -3.8M293.39 491.61l3.8 3.8m-3.8 0l3.8 -3.8M295.19 491.94l3.8 3.8m-3.8 0l3.8 -3.8M296.99 492.27l3.8 3.8m-3.8 0l3.8 -3.8M298.79 492.6l3.8 3.8m-3.8 0l3.8 -3.8M300.59 492.93l3.8 3.8m-3.8 0l3.8 -3.8M302.39 493.26l3.8 3.8m-3.8 0l3.8 -3.8M304.19 493.59l3.8 3.8m-3.8 0l3.8 -3.8M305.99 493.91l3.8 3.8m-3.8 0l3.8 -3.8M307.79 494.17l3.8 3.8m-3.8 0l3.8 -3.8M309.59 494.43l3.8 3.8m-3.8 0l3.8 -3.8M311.39 494.69l3.8 3.8m-3.8 0l3.8 -3.8M313.19 494.95l3.8 3.8m-3.8 0l3.8 -3.8M314.99 495.21l3.8 3.8m-3.8 0l3.8 -3.8M316.79 495.47l3.8 3.8m-3.8 0l3.8 -3.8M318.59 495.74l3.8 3.8m-3.8 0l3.8 -3.8M320.39 496l3.8 3.8m-3.8 0l3.8 -3.8" stroke="#377eb8" stroke-width="1.05" fill="none"/>
<g fill="#377eb8" stroke="#fff" stroke-width="0.4">
<circle cx="121.22" cy="519.54" r="2.4"/><circle cx="133.22" cy="514.64" r="2.4"/><circle cx="145.22" cy="508.58" r="2.4"/><circle cx="157.22" cy="499.58" r="2.4"/><circle cx="169.22" cy="487.8" r="2.4"/><circle cx="181.22" cy="470.16" r="2.4"/><circle cx="183.49" cy="465.62" r="2.4"/><circle cx="185.76" cy="461.08" r="2.4"/><circle cx="188.03" cy="454.79" r="2.4"/><circle cx="190.3" cy="448.38" r="2.4"/><circle cx="192.57" cy="442.25" r="2.4"/><circle cx="194.84" cy="435.96" r="2.4"/><circle cx="197.11" cy="429.08" r="2.4"/><circle cx="199.38" cy="424.25" r="2.4"/><circle cx="201.65" cy="419.06" r="2.4"/><circle cx="203.92" cy="405.16" r="2.4"/><circle cx="206.19" cy="391.07" r="2.4"/><circle cx="208.46" cy="377.06" r="2.4"/><circle cx="210.73" cy="366.15" r="2.4"/><circle cx="213" cy="360.3" r="2.4"/><circle cx="215.27" cy="370.14" r="2.4"/><circle cx="217.54" cy="394.4" r="2.4"/><circle cx="219.81" cy="406.54" r="2.4"/><circle cx="222.08" cy="419.23" r="2.4"/><circle cx="224.35" cy="430.64" r="2.4"/><circle cx="226.62" cy="438.52" r="2.4"/><circle cx="228.89" cy="447.87" r="2.4"/><circle cx="240.89" cy="466.79" r="2.4"/><circle cx="252.89" cy="476.64" r="2.4"/><circle cx="264.89" cy="482.44" r="2.4"/><circle cx="276.89" cy="488.09" r="2.4"/><circle cx="288.89" cy="491.87" r="2.4"/><circle cx="300.89" cy="494.54" r="2.4"/><circle cx="312.89" cy="496.53" r="2.4"/>
</g>
<circle cx="118" cy="520.75" r="2.5" fill="#377eb8"/>
<circle cx="323" cy="498" r="2.5" fill="#377eb8"/>
<path d="M61.4 572.1L65.2 575.9M61.4 575.9L65.2 572.1" stroke="#e41a1c" stroke-width="1.35" fill="none"/>
<path d="M118.1 560.1L121.9 563.9M118.1 563.9L121.9 560.1" stroke="#e41a1c" stroke-width="1.35" fill="none"/>
<path d="M152.35 516.1L156.15 519.9M152.35 519.9L156.15 516.1" stroke="#e41a1c" stroke-width="1.35" fill="none"/>
<path d="M209.1 411.1L212.9 414.9M209.1 414.9L212.9 411.1" stroke="#e41a1c" stroke-width="1.35" fill="none"/>
<path d="M266.35 524.35L270.15 528.15M266.35 528.15L270.15 524.35" stroke="#e41a1c" stroke-width="1.35" fill="none"/>
<path d="M300.6 566.35L304.4 570.15M300.6 570.15L304.4 566.35" stroke="#e41a1c" stroke-width="1.35" fill="none"/>
<path d="M357.35 578.85L361.15 582.65M357.35 582.65L361.15 578.85" stroke="#e41a1c" stroke-width="1.35" fill="none"/>
<path d="M61.4 559.35L65.2 563.15M61.4 563.15L65.2 559.35" stroke="#377eb8" stroke-width="1.35" fill="none"/>
<path d="M118.1 540.6L121.9 544.4M118.1 544.4L121.9 540.6" stroke="#377eb8" stroke-width="1.35" fill="none"/>
<path d="M152.35 489.35L156.15 493.15M152.35 493.15L156.15 489.35" stroke="#377eb8" stroke-width="1.35" fill="none"/>
<path d="M209.7 391.2L213.5 395M209.7 395L213.5 391.2" stroke="#377eb8" stroke-width="1.35" fill="none"/>
<path d="M266.35 513.1L270.15 516.9M266.35 516.9L270.15 513.1" stroke="#377eb8" stroke-width="1.35" fill="none"/>
<path d="M300.6 555.6L304.4 559.4M300.6 559.4L304.4 555.6" stroke="#377eb8" stroke-width="1.35" fill="none"/>
<path d="M357.35 563.85L361.15 567.65M357.35 567.65L361.15 563.85" stroke="#377eb8" stroke-width="1.35" fill="none"/>
<rect x="48.55" y="349.55" width="325.75" height="242.65" fill="none" stroke="#000" stroke-width="1.25"/>
<path d="M44.95 370.5H48.55M44.95 399.5H48.55M44.95 428.6H48.55M44.95 457.6H48.55M44.95 486.6H48.55M44.95 515.7H48.55M44.95 544.7H48.55M44.95 573.75H48.55M97.5 592.2V595.8M154.25 592.2V595.8M211 592.2V595.8M267.75 592.2V595.8M324.5 592.2V595.8" stroke="#000" stroke-width="1.05" fill="none"/>
<g font-family="'DejaVu Sans','Liberation Sans',sans-serif" font-size="9.02" fill="#000" stroke="#000" stroke-width="0.3">
<text transform="translate(42.15 373.75) scale(1 0.9)" text-anchor="end">−8</text>
<text transform="translate(42.15 402.75) scale(1 0.9)" text-anchor="end">−9</text>
<text transform="translate(42.15 431.85) scale(1 0.9)" text-anchor="end">−10</text>
<text transform="translate(42.15 460.85) scale(1 0.9)" text-anchor="end">−11</text>
<text transform="translate(42.15 489.85) scale(1 0.9)" text-anchor="end">−12</text>
<text transform="translate(42.15 518.95) scale(1 0.9)" text-anchor="end">−13</text>
<text transform="translate(42.15 547.95) scale(1 0.9)" text-anchor="end">−14</text>
<text transform="translate(42.15 577) scale(1 0.9)" text-anchor="end">−15</text>
<text transform="translate(97.5 605.45) scale(1 0.9)" text-anchor="middle">−20</text>
<text transform="translate(154.25 605.45) scale(1 0.9)" text-anchor="middle">−10</text>
<text transform="translate(211 605.45) scale(1 0.9)" text-anchor="middle">0</text>
<text transform="translate(267.75 605.45) scale(1 0.9)" text-anchor="middle">10</text>
<text transform="translate(324.5 605.45) scale(1 0.9)" text-anchor="middle">20</text>
<text transform="translate(211.43 617.5) scale(1 0.9)" text-anchor="middle">x(mm)</text>
<text transform="translate(17.6 470.88) rotate(-90) scale(1 1.0)" text-anchor="middle">T(ºC)</text>
</g>
<rect x="256.59" y="355.02" width="112.24" height="99.68" rx="2.23" fill="#fff" fill-opacity="0.8" stroke="#cfcfcf" stroke-width="0.9"/>
<g font-family="'DejaVu Sans','Liberation Sans',sans-serif" font-size="10.84" fill="#000" stroke="#000" stroke-width="0.3">
<text transform="translate(292.04 367.99) scale(1 0.96)">test number</text>
<text transform="translate(292.04 384.19) scale(1 0.96)">1</text>
<text transform="translate(292.04 400.4) scale(1 0.96)">2</text>
<text transform="translate(292.04 416.61) scale(1 0.96)">type</text>
<text transform="translate(292.04 432.82) scale(1 0.96)">analytical</text>
<text transform="translate(292.04 449.03) scale(1 0.96)">experimental</text>
</g>
<circle cx="271.99" cy="381.26" r="3.55" fill="#e41a1c"/>
<circle cx="271.99" cy="397.46" r="3.55" fill="#377eb8"/>
<circle cx="271.99" cy="429.27" r="3.55" fill="#3a3a3a"/>
<path d="M269.56 443.15L274.42 448.01M269.56 448.01L274.42 443.15" stroke="#3a3a3a" stroke-width="3.04" stroke-linecap="butt" fill="none"/>
<text transform="translate(192.5 659) scale(0.92 1.03)" text-anchor="middle" font-family="'Liberation Serif','DejaVu Serif',serif" font-size="22" fill="#111">(<tspan font-weight="bold">c</tspan>)</text>
</g>
<g>
<polyline points="498,580 540,565 565.5,525 607.3,402 649.25,503.9 674.25,562.5 716.25,577.5" fill="none" stroke="#e41a1c" stroke-width="1.7" stroke-dasharray="6 2.5" stroke-linejoin="round"/>
<polyline points="498,539.5 540,532 565.5,510.75 607.3,421.7 649.25,499.5 674.25,543.5 716.25,550" fill="none" stroke="#377eb8" stroke-width="1.7" stroke-dasharray="6 2.5" stroke-linejoin="round"/>
<polyline points="460.75,554.25 480,550.5 500,547.5 520,543.75 535,539.25 545,535 555,530 565,520 572.5,513.75 580,505 583.75,495 586.25,490 588.75,485 592.5,475 595,462.5 598.75,451.25 602.5,441.25 605.4,414.2 608.5,389.2 610.2,420 611.6,441.5 613.8,451.5 616.8,465 619,473.1 622,481.3 626.25,491.25 631.25,492.5 633.75,500 642.5,506.25 652.5,512.5 667.5,520 685,525 705,528.75 725,532.5 750,535.25" fill="none" stroke="#e41a1c" stroke-width="1.8" stroke-linejoin="round"/>
<polyline points="460.75,530 480,526.25 500,522.5 520,517.5 535,513 545,508.75 555,503.75 565,495 572.5,487.5 578,481.3 582.1,475.1 584.1,465 587.5,461 589.5,458 592.4,450 594.5,436.5 596.8,429 600.5,423.8 602,411.5 603.3,394 604.9,388.3 606.3,371 608.5,364.1 610.4,378.8 612.3,400.5 614.8,428 617,440 619,445.4 622.3,455 626.2,465 628.75,467.5 631,472 635,477.5 642.5,481.25 650,485 660,490 675,496.25 690,500.75 705,503.75 725,507.5 750,510.75" fill="none" stroke="#377eb8" stroke-width="1.8" stroke-linejoin="round"/>
<path d="M458.85 552.35l3.8 3.8m-3.8 0l3.8 -3.8M460.15 552.1l3.8 3.8m-3.8 0l3.8 -3.8M461.45 551.84l3.8 3.8m-3.8 0l3.8 -3.8M462.75 551.59l3.8 3.8m-3.8 0l3.8 -3.8M464.05 551.34l3.8 3.8m-3.8 0l3.8 -3.8M465.35 551.08l3.8 3.8m-3.8 0l3.8 -3.8M466.65 550.83l3.8 3.8m-3.8 0l3.8 -3.8M467.95 550.58l3.8 3.8m-3.8 0l3.8 -3.8M469.25 550.32l3.8 3.8m-3.8 0l3.8 -3.8M470.55 550.07l3.8 3.8m-3.8 0l3.8 -3.8M471.85 549.82l3.8 3.8m-3.8 0l3.8 -3.8M473.15 549.56l3.8 3.8m-3.8 0l3.8 -3.8M474.45 549.31l3.8 3.8m-3.8 0l3.8 -3.8M475.75 549.06l3.8 3.8m-3.8 0l3.8 -3.8M477.05 548.8l3.8 3.8m-3.8 0l3.8 -3.8M478.35 548.56l3.8 3.8m-3.8 0l3.8 -3.8M479.65 548.37l3.8 3.8m-3.8 0l3.8 -3.8M480.95 548.17l3.8 3.8m-3.8 0l3.8 -3.8M482.25 547.98l3.8 3.8m-3.8 0l3.8 -3.8M483.55 547.78l3.8 3.8m-3.8 0l3.8 -3.8M484.85 547.59l3.8 3.8m-3.8 0l3.8 -3.8M486.15 547.39l3.8 3.8m-3.8 0l3.8 -3.8M487.45 547.2l3.8 3.8m-3.8 0l3.8 -3.8M488.75 547l3.8 3.8m-3.8 0l3.8 -3.8M490.05 546.81l3.8 3.8m-3.8 0l3.8 -3.8M491.35 546.61l3.8 3.8m-3.8 0l3.8 -3.8M492.65 546.42l3.8 3.8m-3.8 0l3.8 -3.8M493.95 546.22l3.8 3.8m-3.8 0l3.8 -3.8M495.25 546.03l3.8 3.8m-3.8 0l3.8 -3.8M496.55 545.83l3.8 3.8m-3.8 0l3.8 -3.8M497.85 545.64l3.8 3.8m-3.8 0l3.8 -3.8M499.15 545.4l3.8 3.8m-3.8 0l3.8 -3.8M500.45 545.16l3.8 3.8m-3.8 0l3.8 -3.8M501.75 544.92l3.8 3.8m-3.8 0l3.8 -3.8M503.05 544.67l3.8 3.8m-3.8 0l3.8 -3.8M504.35 544.43l3.8 3.8m-3.8 0l3.8 -3.8M505.65 544.18l3.8 3.8m-3.8 0l3.8 -3.8M506.95 543.94l3.8 3.8m-3.8 0l3.8 -3.8M508.25 543.7l3.8 3.8m-3.8 0l3.8 -3.8M509.55 543.45l3.8 3.8m-3.8 0l3.8 -3.8M510.85 543.21l3.8 3.8m-3.8 0l3.8 -3.8M512.15 542.97l3.8 3.8m-3.8 0l3.8 -3.8M513.45 542.72l3.8 3.8m-3.8 0l3.8 -3.8M514.75 542.48l3.8 3.8m-3.8 0l3.8 -3.8M516.05 542.23l3.8 3.8m-3.8 0l3.8 -3.8M517.35 541.99l3.8 3.8m-3.8 0l3.8 -3.8M518.65 541.68l3.8 3.8m-3.8 0l3.8 -3.8M519.95 541.29l3.8 3.8m-3.8 0l3.8 -3.8M521.25 540.9l3.8 3.8m-3.8 0l3.8 -3.8M522.55 540.51l3.8 3.8m-3.8 0l3.8 -3.8M523.85 540.12l3.8 3.8m-3.8 0l3.8 -3.8M525.15 539.73l3.8 3.8m-3.8 0l3.8 -3.8M526.45 539.34l3.8 3.8m-3.8 0l3.8 -3.8M527.75 538.95l3.8 3.8m-3.8 0l3.8 -3.8M529.05 538.56l3.8 3.8m-3.8 0l3.8 -3.8M530.35 538.17l3.8 3.8m-3.8 0l3.8 -3.8M531.65 537.78l3.8 3.8m-3.8 0l3.8 -3.8M532.95 537.39l3.8 3.8m-3.8 0l3.8 -3.8M534.25 536.86l3.8 3.8m-3.8 0l3.8 -3.8M535.55 536.31l3.8 3.8m-3.8 0l3.8 -3.8M536.85 535.76l3.8 3.8m-3.8 0l3.8 -3.8M538.15 535.2l3.8 3.8m-3.8 0l3.8 -3.8M539.45 534.65l3.8 3.8m-3.8 0l3.8 -3.8M540.75 534.1l3.8 3.8m-3.8 0l3.8 -3.8M542.05 533.55l3.8 3.8m-3.8 0l3.8 -3.8M543.35 532.97l3.8 3.8m-3.8 0l3.8 -3.8M544.65 532.32l3.8 3.8m-3.8 0l3.8 -3.8M545.95 531.67l3.8 3.8m-3.8 0l3.8 -3.8M547.25 531.02l3.8 3.8m-3.8 0l3.8 -3.8M548.55 530.37l3.8 3.8m-3.8 0l3.8 -3.8M549.85 529.72l3.8 3.8m-3.8 0l3.8 -3.8M551.15 529.07l3.8 3.8m-3.8 0l3.8 -3.8M552.45 528.42l3.8 3.8m-3.8 0l3.8 -3.8M553.75 527.45l3.8 3.8m-3.8 0l3.8 -3.8M555.05 526.15l3.8 3.8m-3.8 0l3.8 -3.8M556.35 524.85l3.8 3.8m-3.8 0l3.8 -3.8M557.65 523.55l3.8 3.8m-3.8 0l3.8 -3.8M558.95 522.25l3.8 3.8m-3.8 0l3.8 -3.8M560.25 520.95l3.8 3.8m-3.8 0l3.8 -3.8M561.55 519.65l3.8 3.8m-3.8 0l3.8 -3.8M562.85 518.35l3.8 3.8m-3.8 0l3.8 -3.8M564.15 517.22l3.8 3.8m-3.8 0l3.8 -3.8M565.45 516.14l3.8 3.8m-3.8 0l3.8 -3.8M566.75 515.06l3.8 3.8m-3.8 0l3.8 -3.8M568.05 513.97l3.8 3.8m-3.8 0l3.8 -3.8M569.35 512.89l3.8 3.8m-3.8 0l3.8 -3.8M570.65 511.79l3.8 3.8m-3.8 0l3.8 -3.8M571.95 510.27l3.8 3.8m-3.8 0l3.8 -3.8M573.25 508.76l3.8 3.8m-3.8 0l3.8 -3.8M574.55 507.24l3.8 3.8m-3.8 0l3.8 -3.8M575.85 505.72l3.8 3.8m-3.8 0l3.8 -3.8M577.15 504.21l3.8 3.8m-3.8 0l3.8 -3.8M578.45 502.17l3.8 3.8m-3.8 0l3.8 -3.8M630.04 492.67l3.8 3.8m-3.8 0l3.8 -3.8M631.34 496.57l3.8 3.8m-3.8 0l3.8 -3.8M632.64 498.66l3.8 3.8m-3.8 0l3.8 -3.8M633.94 499.59l3.8 3.8m-3.8 0l3.8 -3.8M635.24 500.52l3.8 3.8m-3.8 0l3.8 -3.8M636.54 501.45l3.8 3.8m-3.8 0l3.8 -3.8M637.84 502.38l3.8 3.8m-3.8 0l3.8 -3.8M639.14 503.31l3.8 3.8m-3.8 0l3.8 -3.8M640.44 504.24l3.8 3.8m-3.8 0l3.8 -3.8M641.74 505.06l3.8 3.8m-3.8 0l3.8 -3.8M643.04 505.87l3.8 3.8m-3.8 0l3.8 -3.8M644.34 506.69l3.8 3.8m-3.8 0l3.8 -3.8M645.64 507.5l3.8 3.8m-3.8 0l3.8 -3.8M646.94 508.31l3.8 3.8m-3.8 0l3.8 -3.8M648.24 509.12l3.8 3.8m-3.8 0l3.8 -3.8M649.54 509.94l3.8 3.8m-3.8 0l3.8 -3.8M650.84 510.72l3.8 3.8m-3.8 0l3.8 -3.8M652.14 511.37l3.8 3.8m-3.8 0l3.8 -3.8M653.44 512.02l3.8 3.8m-3.8 0l3.8 -3.8M654.74 512.67l3.8 3.8m-3.8 0l3.8 -3.8M656.04 513.32l3.8 3.8m-3.8 0l3.8 -3.8M657.34 513.97l3.8 3.8m-3.8 0l3.8 -3.8M658.64 514.62l3.8 3.8m-3.8 0l3.8 -3.8M659.94 515.27l3.8 3.8m-3.8 0l3.8 -3.8M661.24 515.92l3.8 3.8m-3.8 0l3.8 -3.8M662.54 516.57l3.8 3.8m-3.8 0l3.8 -3.8M663.84 517.22l3.8 3.8m-3.8 0l3.8 -3.8M665.14 517.87l3.8 3.8m-3.8 0l3.8 -3.8M666.44 518.34l3.8 3.8m-3.8 0l3.8 -3.8M667.74 518.71l3.8 3.8m-3.8 0l3.8 -3.8M669.04 519.08l3.8 3.8m-3.8 0l3.8 -3.8M670.34 519.45l3.8 3.8m-3.8 0l3.8 -3.8M671.64 519.83l3.8 3.8m-3.8 0l3.8 -3.8M672.94 520.2l3.8 3.8m-3.8 0l3.8 -3.8M674.24 520.57l3.8 3.8m-3.8 0l3.8 -3.8M675.54 520.94l3.8 3.8m-3.8 0l3.8 -3.8M676.84 521.31l3.8 3.8m-3.8 0l3.8 -3.8M678.14 521.68l3.8 3.8m-3.8 0l3.8 -3.8M679.44 522.05l3.8 3.8m-3.8 0l3.8 -3.8M680.74 522.43l3.8 3.8m-3.8 0l3.8 -3.8M682.04 522.8l3.8 3.8m-3.8 0l3.8 -3.8M683.34 523.14l3.8 3.8m-3.8 0l3.8 -3.8M684.64 523.39l3.8 3.8m-3.8 0l3.8 -3.8M685.94 523.63l3.8 3.8m-3.8 0l3.8 -3.8M687.24 523.88l3.8 3.8m-3.8 0l3.8 -3.8M688.54 524.12l3.8 3.8m-3.8 0l3.8 -3.8M689.84 524.36l3.8 3.8m-3.8 0l3.8 -3.8M691.14 524.61l3.8 3.8m-3.8 0l3.8 -3.8M692.44 524.85l3.8 3.8m-3.8 0l3.8 -3.8M693.74 525.09l3.8 3.8m-3.8 0l3.8 -3.8M695.04 525.34l3.8 3.8m-3.8 0l3.8 -3.8M696.34 525.58l3.8 3.8m-3.8 0l3.8 -3.8M697.64 525.83l3.8 3.8m-3.8 0l3.8 -3.8M698.94 526.07l3.8 3.8m-3.8 0l3.8 -3.8M700.24 526.31l3.8 3.8m-3.8 0l3.8 -3.8M701.54 526.56l3.8 3.8m-3.8 0l3.8 -3.8M702.84 526.8l3.8 3.8m-3.8 0l3.8 -3.8M704.14 527.04l3.8 3.8m-3.8 0l3.8 -3.8M705.44 527.29l3.8 3.8m-3.8 0l3.8 -3.8M706.74 527.53l3.8 3.8m-3.8 0l3.8 -3.8M708.04 527.78l3.8 3.8m-3.8 0l3.8 -3.8M709.34 528.02l3.8 3.8m-3.8 0l3.8 -3.8M710.64 528.26l3.8 3.8m-3.8 0l3.8 -3.8M711.94 528.51l3.8 3.8m-3.8 0l3.8 -3.8M713.24 528.75l3.8 3.8m-3.8 0l3.8 -3.8M714.54 528.99l3.8 3.8m-3.8 0l3.8 -3.8M715.84 529.24l3.8 3.8m-3.8 0l3.8 -3.8M717.14 529.48l3.8 3.8m-3.8 0l3.8 -3.8M718.44 529.73l3.8 3.8m-3.8 0l3.8 -3.8M719.74 529.97l3.8 3.8m-3.8 0l3.8 -3.8M721.04 530.21l3.8 3.8m-3.8 0l3.8 -3.8M722.34 530.46l3.8 3.8m-3.8 0l3.8 -3.8M723.64 530.66l3.8 3.8m-3.8 0l3.8 -3.8M724.94 530.8l3.8 3.8m-3.8 0l3.8 -3.8M726.24 530.95l3.8 3.8m-3.8 0l3.8 -3.8M727.54 531.09l3.8 3.8m-3.8 0l3.8 -3.8M728.84 531.23l3.8 3.8m-3.8 0l3.8 -3.8M730.14 531.37l3.8 3.8m-3.8 0l3.8 -3.8M731.44 531.52l3.8 3.8m-3.8 0l3.8 -3.8M732.74 531.66l3.8 3.8m-3.8 0l3.8 -3.8M734.04 531.8l3.8 3.8m-3.8 0l3.8 -3.8M735.34 531.95l3.8 3.8m-3.8 0l3.8 -3.8M736.64 532.09l3.8 3.8m-3.8 0l3.8 -3.8M737.94 532.23l3.8 3.8m-3.8 0l3.8 -3.8M739.24 532.38l3.8 3.8m-3.8 0l3.8 -3.8M740.54 532.52l3.8 3.8m-3.8 0l3.8 -3.8M741.84 532.66l3.8 3.8m-3.8 0l3.8 -3.8M743.14 532.8l3.8 3.8m-3.8 0l3.8 -3.8M744.44 532.95l3.8 3.8m-3.8 0l3.8 -3.8M745.74 533.09l3.8 3.8m-3.8 0l3.8 -3.8M747.04 533.23l3.8 3.8m-3.8 0l3.8 -3.8" stroke="#e41a1c" stroke-width="1.05" fill="none"/>
<g fill="#e41a1c" stroke="#fff" stroke-width="0.4">
<circle cx="581.62" cy="500.68" r="2.4"/><circle cx="583.3" cy="496.2" r="2.4"/><circle cx="584.98" cy="492.54" r="2.4"/><circle cx="586.66" cy="489.18" r="2.4"/><circle cx="588.34" cy="485.82" r="2.4"/><circle cx="590.02" cy="481.61" r="2.4"/><circle cx="591.7" cy="477.13" r="2.4"/><circle cx="593.38" cy="470.6" r="2.4"/><circle cx="595.06" cy="462.32" r="2.4"/><circle cx="596.74" cy="457.28" r="2.4"/><circle cx="598.42" cy="452.24" r="2.4"/><circle cx="600.1" cy="447.65" r="2.4"/><circle cx="601.78" cy="443.17" r="2.4"/><circle cx="603.46" cy="432.3" r="2.4"/><circle cx="605.14" cy="416.63" r="2.4"/><circle cx="606.82" cy="402.75" r="2.4"/><circle cx="608.5" cy="389.2" r="2.4"/><circle cx="610.18" cy="419.64" r="2.4"/><circle cx="611.86" cy="442.68" r="2.4"/><circle cx="613.54" cy="450.32" r="2.4"/><circle cx="615.22" cy="457.89" r="2.4"/><circle cx="616.9" cy="465.37" r="2.4"/><circle cx="618.58" cy="471.55" r="2.4"/><circle cx="620.26" cy="476.54" r="2.4"/><circle cx="621.94" cy="481.14" r="2.4"/><circle cx="623.62" cy="485.09" r="2.4"/><circle cx="625.3" cy="489.03" r="2.4"/><circle cx="626.98" cy="491.43" r="2.4"/><circle cx="628.66" cy="491.85" r="2.4"/><circle cx="630.34" cy="492.27" r="2.4"/>
</g>
<circle cx="460.75" cy="554.25" r="2.5" fill="#e41a1c"/>
<circle cx="750" cy="535.25" r="2.5" fill="#e41a1c"/>
<path d="M458.85 528.1l3.8 3.8m-3.8 0l3.8 -3.8M460.15 527.85l3.8 3.8m-3.8 0l3.8 -3.8M461.45 527.59l3.8 3.8m-3.8 0l3.8 -3.8M462.75 527.34l3.8 3.8m-3.8 0l3.8 -3.8M464.05 527.09l3.8 3.8m-3.8 0l3.8 -3.8M465.35 526.83l3.8 3.8m-3.8 0l3.8 -3.8M466.65 526.58l3.8 3.8m-3.8 0l3.8 -3.8M467.95 526.33l3.8 3.8m-3.8 0l3.8 -3.8M469.25 526.07l3.8 3.8m-3.8 0l3.8 -3.8M470.55 525.82l3.8 3.8m-3.8 0l3.8 -3.8M471.85 525.57l3.8 3.8m-3.8 0l3.8 -3.8M473.15 525.31l3.8 3.8m-3.8 0l3.8 -3.8M474.45 525.06l3.8 3.8m-3.8 0l3.8 -3.8M475.75 524.81l3.8 3.8m-3.8 0l3.8 -3.8M477.05 524.55l3.8 3.8m-3.8 0l3.8 -3.8M478.35 524.3l3.8 3.8m-3.8 0l3.8 -3.8M479.65 524.06l3.8 3.8m-3.8 0l3.8 -3.8M480.95 523.82l3.8 3.8m-3.8 0l3.8 -3.8M482.25 523.57l3.8 3.8m-3.8 0l3.8 -3.8M483.55 523.33l3.8 3.8m-3.8 0l3.8 -3.8M484.85 523.08l3.8 3.8m-3.8 0l3.8 -3.8M486.15 522.84l3.8 3.8m-3.8 0l3.8 -3.8M487.45 522.6l3.8 3.8m-3.8 0l3.8 -3.8M488.75 522.35l3.8 3.8m-3.8 0l3.8 -3.8M490.05 522.11l3.8 3.8m-3.8 0l3.8 -3.8M491.35 521.87l3.8 3.8m-3.8 0l3.8 -3.8M492.65 521.62l3.8 3.8m-3.8 0l3.8 -3.8M493.95 521.38l3.8 3.8m-3.8 0l3.8 -3.8M495.25 521.13l3.8 3.8m-3.8 0l3.8 -3.8M496.55 520.89l3.8 3.8m-3.8 0l3.8 -3.8M497.85 520.65l3.8 3.8m-3.8 0l3.8 -3.8M499.15 520.34l3.8 3.8m-3.8 0l3.8 -3.8M500.45 520.01l3.8 3.8m-3.8 0l3.8 -3.8M501.75 519.69l3.8 3.8m-3.8 0l3.8 -3.8M503.05 519.36l3.8 3.8m-3.8 0l3.8 -3.8M504.35 519.04l3.8 3.8m-3.8 0l3.8 -3.8M505.65 518.71l3.8 3.8m-3.8 0l3.8 -3.8M506.95 518.39l3.8 3.8m-3.8 0l3.8 -3.8M508.25 518.06l3.8 3.8m-3.8 0l3.8 -3.8M509.55 517.74l3.8 3.8m-3.8 0l3.8 -3.8M510.85 517.41l3.8 3.8m-3.8 0l3.8 -3.8M512.15 517.09l3.8 3.8m-3.8 0l3.8 -3.8M513.45 516.76l3.8 3.8m-3.8 0l3.8 -3.8M514.75 516.44l3.8 3.8m-3.8 0l3.8 -3.8M516.05 516.11l3.8 3.8m-3.8 0l3.8 -3.8M517.35 515.79l3.8 3.8m-3.8 0l3.8 -3.8M518.65 515.43l3.8 3.8m-3.8 0l3.8 -3.8M519.95 515.04l3.8 3.8m-3.8 0l3.8 -3.8M521.25 514.65l3.8 3.8m-3.8 0l3.8 -3.8M522.55 514.26l3.8 3.8m-3.8 0l3.8 -3.8M523.85 513.87l3.8 3.8m-3.8 0l3.8 -3.8M525.15 513.48l3.8 3.8m-3.8 0l3.8 -3.8M526.45 513.09l3.8 3.8m-3.8 0l3.8 -3.8M527.75 512.7l3.8 3.8m-3.8 0l3.8 -3.8M529.05 512.31l3.8 3.8m-3.8 0l3.8 -3.8M530.35 511.92l3.8 3.8m-3.8 0l3.8 -3.8M531.65 511.53l3.8 3.8m-3.8 0l3.8 -3.8M532.95 511.14l3.8 3.8m-3.8 0l3.8 -3.8M534.25 510.61l3.8 3.8m-3.8 0l3.8 -3.8M535.55 510.06l3.8 3.8m-3.8 0l3.8 -3.8M536.85 509.51l3.8 3.8m-3.8 0l3.8 -3.8M538.15 508.95l3.8 3.8m-3.8 0l3.8 -3.8M539.45 508.4l3.8 3.8m-3.8 0l3.8 -3.8M540.75 507.85l3.8 3.8m-3.8 0l3.8 -3.8M542.05 507.3l3.8 3.8m-3.8 0l3.8 -3.8M543.35 506.72l3.8 3.8m-3.8 0l3.8 -3.8M544.65 506.07l3.8 3.8m-3.8 0l3.8 -3.8M545.95 505.42l3.8 3.8m-3.8 0l3.8 -3.8M547.25 504.77l3.8 3.8m-3.8 0l3.8 -3.8M548.55 504.12l3.8 3.8m-3.8 0l3.8 -3.8M549.85 503.47l3.8 3.8m-3.8 0l3.8 -3.8M551.15 502.82l3.8 3.8m-3.8 0l3.8 -3.8M552.45 502.17l3.8 3.8m-3.8 0l3.8 -3.8M553.75 501.28l3.8 3.8m-3.8 0l3.8 -3.8M555.05 500.14l3.8 3.8m-3.8 0l3.8 -3.8M556.35 499.01l3.8 3.8m-3.8 0l3.8 -3.8M557.65 497.87l3.8 3.8m-3.8 0l3.8 -3.8M558.95 496.73l3.8 3.8m-3.8 0l3.8 -3.8M560.25 495.59l3.8 3.8m-3.8 0l3.8 -3.8M561.55 494.46l3.8 3.8m-3.8 0l3.8 -3.8M562.85 493.32l3.8 3.8m-3.8 0l3.8 -3.8M564.15 492.05l3.8 3.8m-3.8 0l3.8 -3.8M633.4 475.75l3.8 3.8m-3.8 0l3.8 -3.8M634.7 476.4l3.8 3.8m-3.8 0l3.8 -3.8M636 477.05l3.8 3.8m-3.8 0l3.8 -3.8M637.3 477.7l3.8 3.8m-3.8 0l3.8 -3.8M638.6 478.35l3.8 3.8m-3.8 0l3.8 -3.8M639.9 479l3.8 3.8m-3.8 0l3.8 -3.8M641.2 479.65l3.8 3.8m-3.8 0l3.8 -3.8M642.5 480.3l3.8 3.8m-3.8 0l3.8 -3.8M643.8 480.95l3.8 3.8m-3.8 0l3.8 -3.8M645.1 481.6l3.8 3.8m-3.8 0l3.8 -3.8M646.4 482.25l3.8 3.8m-3.8 0l3.8 -3.8M647.7 482.9l3.8 3.8m-3.8 0l3.8 -3.8M649 483.55l3.8 3.8m-3.8 0l3.8 -3.8M650.3 484.2l3.8 3.8m-3.8 0l3.8 -3.8M651.6 484.85l3.8 3.8m-3.8 0l3.8 -3.8M652.9 485.5l3.8 3.8m-3.8 0l3.8 -3.8M654.2 486.15l3.8 3.8m-3.8 0l3.8 -3.8M655.5 486.8l3.8 3.8m-3.8 0l3.8 -3.8M656.8 487.45l3.8 3.8m-3.8 0l3.8 -3.8M658.1 488.1l3.8 3.8m-3.8 0l3.8 -3.8M659.4 488.64l3.8 3.8m-3.8 0l3.8 -3.8M660.7 489.18l3.8 3.8m-3.8 0l3.8 -3.8M662 489.72l3.8 3.8m-3.8 0l3.8 -3.8M663.3 490.27l3.8 3.8m-3.8 0l3.8 -3.8M664.6 490.81l3.8 3.8m-3.8 0l3.8 -3.8M665.9 491.35l3.8 3.8m-3.8 0l3.8 -3.8M667.2 491.89l3.8 3.8m-3.8 0l3.8 -3.8M668.5 492.43l3.8 3.8m-3.8 0l3.8 -3.8M669.8 492.97l3.8 3.8m-3.8 0l3.8 -3.8M671.1 493.52l3.8 3.8m-3.8 0l3.8 -3.8M672.4 494.06l3.8 3.8m-3.8 0l3.8 -3.8M673.7 494.53l3.8 3.8m-3.8 0l3.8 -3.8M675 494.92l3.8 3.8m-3.8 0l3.8 -3.8M676.3 495.31l3.8 3.8m-3.8 0l3.8 -3.8M677.6 495.7l3.8 3.8m-3.8 0l3.8 -3.8M678.9 496.09l3.8 3.8m-3.8 0l3.8 -3.8M680.2 496.48l3.8 3.8m-3.8 0l3.8 -3.8M681.5 496.87l3.8 3.8m-3.8 0l3.8 -3.8M682.8 497.26l3.8 3.8m-3.8 0l3.8 -3.8M684.1 497.65l3.8 3.8m-3.8 0l3.8 -3.8M685.4 498.04l3.8 3.8m-3.8 0l3.8 -3.8M686.7 498.43l3.8 3.8m-3.8 0l3.8 -3.8M688 498.82l3.8 3.8m-3.8 0l3.8 -3.8M689.3 499.09l3.8 3.8m-3.8 0l3.8 -3.8M690.6 499.35l3.8 3.8m-3.8 0l3.8 -3.8M691.9 499.61l3.8 3.8m-3.8 0l3.8 -3.8M693.2 499.87l3.8 3.8m-3.8 0l3.8 -3.8M694.5 500.13l3.8 3.8m-3.8 0l3.8 -3.8M695.8 500.39l3.8 3.8m-3.8 0l3.8 -3.8M697.1 500.65l3.8 3.8m-3.8 0l3.8 -3.8M698.4 500.91l3.8 3.8m-3.8 0l3.8 -3.8M699.7 501.17l3.8 3.8m-3.8 0l3.8 -3.8M701 501.43l3.8 3.8m-3.8 0l3.8 -3.8M702.3 501.69l3.8 3.8m-3.8 0l3.8 -3.8M703.6 501.94l3.8 3.8m-3.8 0l3.8 -3.8M704.9 502.19l3.8 3.8m-3.8 0l3.8 -3.8M706.2 502.43l3.8 3.8m-3.8 0l3.8 -3.8M707.5 502.67l3.8 3.8m-3.8 0l3.8 -3.8M708.8 502.92l3.8 3.8m-3.8 0l3.8 -3.8M710.1 503.16l3.8 3.8m-3.8 0l3.8 -3.8M711.4 503.41l3.8 3.8m-3.8 0l3.8 -3.8M712.7 503.65l3.8 3.8m-3.8 0l3.8 -3.8M714 503.89l3.8 3.8m-3.8 0l3.8 -3.8M715.3 504.14l3.8 3.8m-3.8 0l3.8 -3.8M716.6 504.38l3.8 3.8m-3.8 0l3.8 -3.8M717.9 504.62l3.8 3.8m-3.8 0l3.8 -3.8M719.2 504.87l3.8 3.8m-3.8 0l3.8 -3.8M720.5 505.11l3.8 3.8m-3.8 0l3.8 -3.8M721.8 505.36l3.8 3.8m-3.8 0l3.8 -3.8M723.1 505.6l3.8 3.8m-3.8 0l3.8 -3.8M724.4 505.77l3.8 3.8m-3.8 0l3.8 -3.8M725.7 505.94l3.8 3.8m-3.8 0l3.8 -3.8M727 506.11l3.8 3.8m-3.8 0l3.8 -3.8M728.3 506.28l3.8 3.8m-3.8 0l3.8 -3.8M729.6 506.44l3.8 3.8m-3.8 0l3.8 -3.8M730.9 506.61l3.8 3.8m-3.8 0l3.8 -3.8M732.2 506.78l3.8 3.8m-3.8 0l3.8 -3.8M733.5 506.95l3.8 3.8m-3.8 0l3.8 -3.8M734.8 507.12l3.8 3.8m-3.8 0l3.8 -3.8M736.1 507.29l3.8 3.8m-3.8 0l3.8 -3.8M737.4 507.46l3.8 3.8m-3.8 0l3.8 -3.8M738.7 507.63l3.8 3.8m-3.8 0l3.8 -3.8M740 507.8l3.8 3.8m-3.8 0l3.8 -3.8M741.3 507.97l3.8 3.8m-3.8 0l3.8 -3.8M742.6 508.13l3.8 3.8m-3.8 0l3.8 -3.8M743.9 508.3l3.8 3.8m-3.8 0l3.8 -3.8M745.2 508.47l3.8 3.8m-3.8 0l3.8 -3.8M746.5 508.64l3.8 3.8m-3.8 0l3.8 -3.8M747.8 508.81l3.8 3.8m-3.8 0l3.8 -3.8" stroke="#377eb8" stroke-width="1.05" fill="none"/>
<g fill="#377eb8" stroke="#fff" stroke-width="0.4">
<circle cx="568.18" cy="491.82" r="2.4"/><circle cx="569.86" cy="490.14" r="2.4"/><circle cx="571.54" cy="488.46" r="2.4"/><circle cx="573.22" cy="486.69" r="2.4"/><circle cx="574.9" cy="484.79" r="2.4"/><circle cx="576.58" cy="482.9" r="2.4"/><circle cx="578.26" cy="480.91" r="2.4"/><circle cx="579.94" cy="478.37" r="2.4"/><circle cx="581.62" cy="475.83" r="2.4"/><circle cx="583.3" cy="469.04" r="2.4"/><circle cx="584.98" cy="463.96" r="2.4"/><circle cx="586.66" cy="461.99" r="2.4"/><circle cx="588.34" cy="459.74" r="2.4"/><circle cx="590.02" cy="456.57" r="2.4"/><circle cx="591.7" cy="451.93" r="2.4"/><circle cx="593.38" cy="443.7" r="2.4"/><circle cx="595.06" cy="434.67" r="2.4"/><circle cx="596.74" cy="429.2" r="2.4"/><circle cx="598.42" cy="426.72" r="2.4"/><circle cx="600.1" cy="424.36" r="2.4"/><circle cx="601.78" cy="413.3" r="2.4"/><circle cx="603.46" cy="393.43" r="2.4"/><circle cx="605.14" cy="385.33" r="2.4"/><circle cx="606.82" cy="369.37" r="2.4"/><circle cx="608.5" cy="364.1" r="2.4"/><circle cx="610.18" cy="377.1" r="2.4"/><circle cx="611.86" cy="395.47" r="2.4"/><circle cx="613.54" cy="414.14" r="2.4"/><circle cx="615.22" cy="430.29" r="2.4"/><circle cx="616.9" cy="439.45" r="2.4"/><circle cx="618.58" cy="444.27" r="2.4"/><circle cx="620.26" cy="449.07" r="2.4"/><circle cx="621.94" cy="453.95" r="2.4"/><circle cx="623.62" cy="458.38" r="2.4"/><circle cx="625.3" cy="462.69" r="2.4"/><circle cx="626.98" cy="465.76" r="2.4"/><circle cx="628.66" cy="467.41" r="2.4"/><circle cx="630.34" cy="470.68" r="2.4"/><circle cx="632.02" cy="473.4" r="2.4"/><circle cx="633.7" cy="475.71" r="2.4"/>
</g>
<circle cx="460.75" cy="530" r="2.5" fill="#377eb8"/>
<circle cx="750" cy="510.75" r="2.5" fill="#377eb8"/>
<path d="M496.1 578.1L499.9 581.9M496.1 581.9L499.9 578.1" stroke="#e41a1c" stroke-width="1.35" fill="none"/>
<path d="M538.1 563.1L541.9 566.9M538.1 566.9L541.9 563.1" stroke="#e41a1c" stroke-width="1.35" fill="none"/>
<path d="M563.6 523.1L567.4 526.9M563.6 526.9L567.4 523.1" stroke="#e41a1c" stroke-width="1.35" fill="none"/>
<path d="M605.4 400.1L609.2 403.9M605.4 403.9L609.2 400.1" stroke="#e41a1c" stroke-width="1.35" fill="none"/>
<path d="M647.35 502L651.15 505.8M647.35 505.8L651.15 502" stroke="#e41a1c" stroke-width="1.35" fill="none"/>
<path d="M672.35 560.6L676.15 564.4M672.35 564.4L676.15 560.6" stroke="#e41a1c" stroke-width="1.35" fill="none"/>
<path d="M714.35 575.6L718.15 579.4M714.35 579.4L718.15 575.6" stroke="#e41a1c" stroke-width="1.35" fill="none"/>
<path d="M496.1 537.6L499.9 541.4M496.1 541.4L499.9 537.6" stroke="#377eb8" stroke-width="1.35" fill="none"/>
<path d="M538.1 530.1L541.9 533.9M538.1 533.9L541.9 530.1" stroke="#377eb8" stroke-width="1.35" fill="none"/>
<path d="M563.6 508.85L567.4 512.65M563.6 512.65L567.4 508.85" stroke="#377eb8" stroke-width="1.35" fill="none"/>
<path d="M605.4 419.8L609.2 423.6M605.4 423.6L609.2 419.8" stroke="#377eb8" stroke-width="1.35" fill="none"/>
<path d="M647.35 497.6L651.15 501.4M647.35 501.4L651.15 497.6" stroke="#377eb8" stroke-width="1.35" fill="none"/>
<path d="M672.35 541.6L676.15 545.4M672.35 545.4L676.15 541.6" stroke="#377eb8" stroke-width="1.35" fill="none"/>
<path d="M714.35 548.1L718.15 551.9M714.35 551.9L718.15 548.1" stroke="#377eb8" stroke-width="1.35" fill="none"/>
<rect x="446.55" y="353.7" width="317.95" height="237.1" fill="none" stroke="#000" stroke-width="1.25"/>
<path d="M442.95 375.75H446.55M442.95 406H446.55M442.95 436.2H446.55M442.95 466.4H446.55M442.95 496.6H446.55M442.95 526.85H446.55M442.95 557.1H446.55M442.95 587.3H446.55M481.25 590.8V594.4M523.25 590.8V594.4M565.25 590.8V594.4M607.25 590.8V594.4M649.25 590.8V594.4M691.25 590.8V594.4M733.25 590.8V594.4" stroke="#000" stroke-width="1.05" fill="none"/>
<g font-family="'DejaVu Sans','Liberation Sans',sans-serif" font-size="8.8" fill="#000" stroke="#000" stroke-width="0.3">
<text transform="translate(440.15 379) scale(1 0.9)" text-anchor="end">−12.5</text>
<text transform="translate(440.15 409.25) scale(1 0.9)" text-anchor="end">−13.0</text>
<text transform="translate(440.15 439.45) scale(1 0.9)" text-anchor="end">−13.5</text>
<text transform="translate(440.15 469.65) scale(1 0.9)" text-anchor="end">−14.0</text>
<text transform="translate(440.15 499.85) scale(1 0.9)" text-anchor="end">−14.5</text>
<text transform="translate(440.15 530.1) scale(1 0.9)" text-anchor="end">−15.0</text>
<text transform="translate(440.15 560.35) scale(1 0.9)" text-anchor="end">−15.5</text>
<text transform="translate(440.15 590.55) scale(1 0.9)" text-anchor="end">−16.0</text>
<text transform="translate(481.25 604.05) scale(1 0.9)" text-anchor="middle">−30</text>
<text transform="translate(523.25 604.05) scale(1 0.9)" text-anchor="middle">−20</text>
<text transform="translate(565.25 604.05) scale(1 0.9)" text-anchor="middle">−10</text>
<text transform="translate(607.25 604.05) scale(1 0.9)" text-anchor="middle">0</text>
<text transform="translate(649.25 604.05) scale(1 0.9)" text-anchor="middle">10</text>
<text transform="translate(691.25 604.05) scale(1 0.9)" text-anchor="middle">20</text>
<text transform="translate(733.25 604.05) scale(1 0.9)" text-anchor="middle">30</text>
<text transform="translate(605.52 616.1) scale(1 0.9)" text-anchor="middle">x(mm)</text>
<text transform="translate(408.3 472.25) rotate(-90) scale(1 1.0)" text-anchor="middle">T(ºC)</text>
</g>
<rect x="649.58" y="359.04" width="109.58" height="97.32" rx="2.18" fill="#fff" fill-opacity="0.8" stroke="#cfcfcf" stroke-width="0.9"/>
<g font-family="'DejaVu Sans','Liberation Sans',sans-serif" font-size="10.58" fill="#000" stroke="#000" stroke-width="0.3">
<text transform="translate(684.19 371.7) scale(1 0.96)">test number</text>
<text transform="translate(684.19 387.52) scale(1 0.96)">1</text>
<text transform="translate(684.19 403.35) scale(1 0.96)">2</text>
<text transform="translate(684.19 419.17) scale(1 0.96)">type</text>
<text transform="translate(684.19 435) scale(1 0.96)">analytical</text>
<text transform="translate(684.19 450.82) scale(1 0.96)">experimental</text>
</g>
<circle cx="664.61" cy="384.66" r="3.46" fill="#e41a1c"/>
<circle cx="664.61" cy="400.48" r="3.46" fill="#377eb8"/>
<circle cx="664.61" cy="431.53" r="3.46" fill="#3a3a3a"/>
<path d="M662.24 445.08L666.98 449.83M662.24 449.83L666.98 445.08" stroke="#3a3a3a" stroke-width="2.97" stroke-linecap="butt" fill="none"/>
<text transform="translate(583.6 656.1) scale(0.92 1.03)" text-anchor="middle" font-family="'Liberation Serif','DejaVu Serif',serif" font-size="22" fill="#111">(<tspan font-weight="bold">d</tspan>)</text>
</g>
</svg>
</body>
</html>
